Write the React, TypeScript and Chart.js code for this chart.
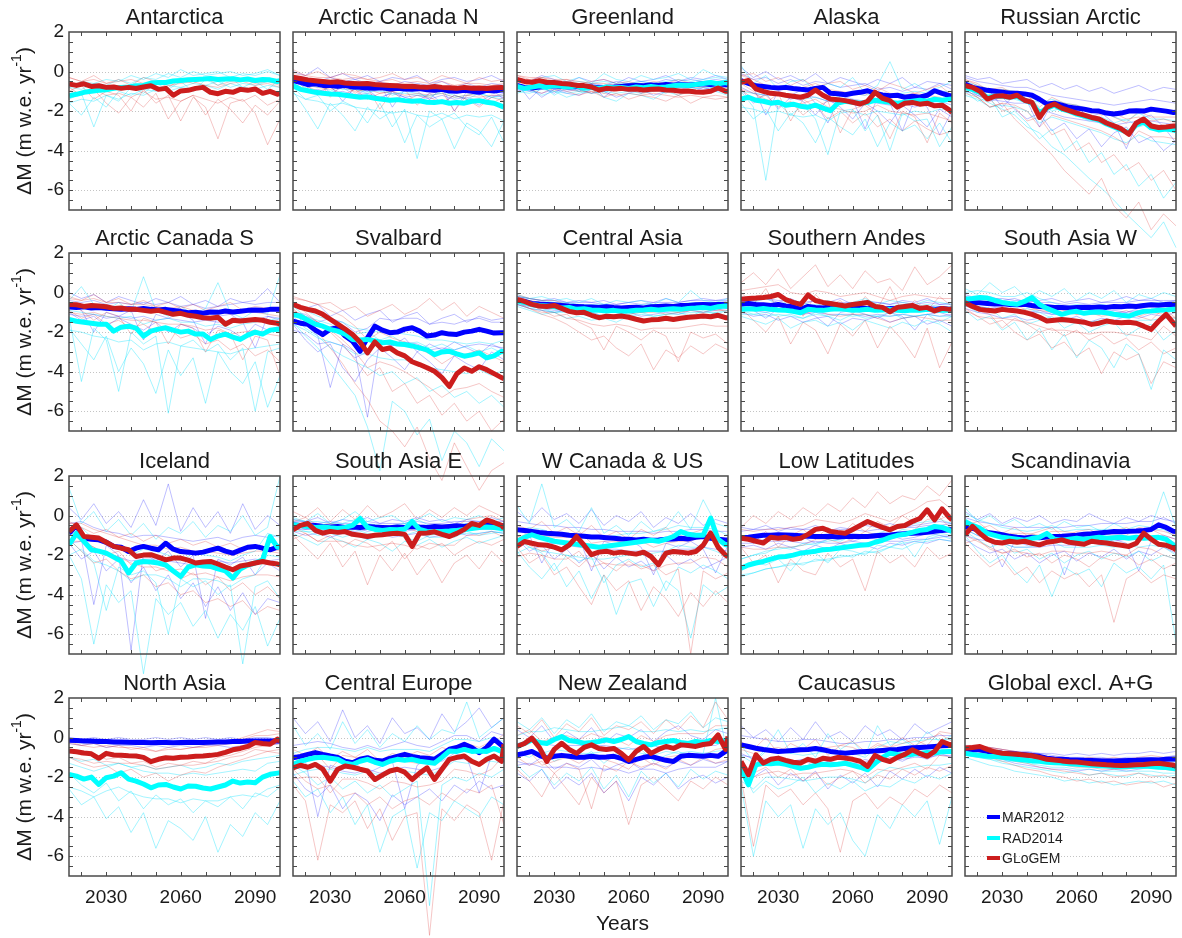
import React, { useEffect, useRef } from "react";
import { Chart, registerables } from "chart.js";
Chart.register(...registerables);

// ---------------- data ----------------
const YEARS = [2015, 2018, 2021, 2024, 2027, 2030, 2033, 2036, 2039, 2042, 2045, 2048, 2051, 2054, 2057, 2060, 2063, 2066, 2069, 2072, 2075, 2078, 2081, 2084, 2087, 2090, 2093, 2096, 2099, 2100];
const THIN_YEARS = [2015, 2020, 2025, 2030, 2035, 2040, 2045, 2050, 2055, 2060, 2065, 2070, 2075, 2080, 2085, 2090, 2095, 2100];

const TITLES = ["Antarctica", "Arctic Canada N", "Greenland", "Alaska", "Russian Arctic", "Arctic Canada S", "Svalbard", "Central Asia", "Southern Andes", "South Asia W", "Iceland", "South Asia E", "W Canada & US", "Low Latitudes", "Scandinavia", "North Asia", "Central Europe", "New Zealand", "Caucasus", "Global excl. A+G"];
const SERIES_NAMES = ["MAR2012", "RAD2014", "GLoGEM"];
const X_TICKS = [2030, 2060, 2090];
const Y_TICKS = [-6, -4, -2, 0, 2];
const X_MINOR = [2020, 2030, 2040, 2050, 2060, 2070, 2080, 2090];
const Y_MINOR = [-6.5, -6, -5.5, -5, -4.5, -4, -3.5, -3, -2.5, -2, -1.5, -1, -0.5, 0, 0.5, 1, 1.5];
const Y_GRID = [0, -2, -4, -6];
const Y_LABEL = "ΔM (m w.e. yr";
const Y_LABEL_SUP = "-1";
const X_LABEL = "Years";

// Antarctica
const ANT_MAR: number[] | null = null;
const ANT_RAD = [-1.22, -1.15, -1.05, -1.0, -0.95, -0.92, -0.85, -0.8, -0.78, -0.72, -0.7, -0.58, -0.55, -0.55, -0.48, -0.45, -0.42, -0.4, -0.38, -0.35, -0.4, -0.38, -0.36, -0.42, -0.38, -0.45, -0.4, -0.42, -0.5, -0.45];
const ANT_GLO = [-0.63, -0.7, -0.62, -0.75, -0.72, -0.8, -0.78, -0.85, -0.8, -0.86, -0.78, -0.72, -0.9, -0.85, -1.2, -0.98, -0.95, -0.85, -0.8, -1.05, -1.12, -1.0, -1.05, -0.9, -0.95, -0.88, -1.1, -1.0, -1.15, -1.1];
const ANT_MAR_THIN: number[][] = [];
const ANT_RAD_THIN = [
  [-0.8, -0.5, -0.6, -0.4, -0.5, -0.2, -0.4, -0.1, -0.3, 0.1, -0.2, -0.1, 0.0, -0.3, -0.1, -0.2, 0.0, -0.2],
  [-1.6, -2.2, -1.3, -1.8, -1.0, -1.2, -0.9, -1.0, -0.7, -0.8, -0.6, -0.7, -0.5, -0.8, -0.6, -0.7, -0.5, -0.6],
  [-1.4, -1.1, -2.8, -1.2, -1.5, -0.8, -1.1, -0.6, -0.9, -0.5, -1.0, -0.4, -0.7, -0.3, -0.8, -0.5, -0.9, -0.4],
  [-0.8, -0.9, -0.6, -0.7, -0.4, -0.6, -0.3, -0.4, -0.1, -0.3, 0.0, -0.2, -0.1, 0.0, -0.2, -0.1, 0.1, -0.2],
  [-1.6, -1.4, -1.5, -1.2, -1.4, -1.1, -1.2, -0.9, -1.0, -0.8, -0.9, -0.7, -0.9, -0.6, -0.8, -0.9, -0.7, -0.8],
];
const ANT_GLO_THIN = [
  [-0.3, -0.5, -0.2, -0.6, -0.4, -0.7, -0.3, -0.5, -0.8, -0.4, -0.6, -0.3, -0.7, -0.5, -0.4, -0.6, -0.5, -0.7],
  [-0.8, -1.2, -0.9, -1.6, -2.1, -1.3, -1.8, -1.1, -2.4, -1.5, -1.2, -2.2, -1.4, -1.9, -2.6, -1.7, -2.2, -1.5],
  [-1.0, -0.7, -1.4, -1.0, -1.2, -2.0, -0.9, -1.6, -1.2, -2.5, -1.3, -1.8, -3.4, -1.6, -1.4, -2.1, -3.7, -2.4],
  [-0.3, -0.5, -0.4, -0.6, -0.5, -0.4, -0.6, -0.5, -0.7, -0.6, -0.5, -0.7, -0.8, -0.6, -0.5, -0.7, -0.6, -0.8],
  [-1.0, -1.1, -0.9, -1.2, -1.1, -1.3, -1.0, -1.4, -1.3, -1.5, -1.2, -1.4, -1.6, -1.3, -1.5, -1.2, -1.7, -1.4],
];

// Arctic Canada N
const ACN_MAR = [-0.46, -0.55, -0.66, -0.62, -0.7, -0.71, -0.75, -0.7, -0.78, -0.8, -0.83, -0.85, -0.82, -0.88, -0.85, -0.88, -0.9, -0.86, -0.92, -0.95, -0.9, -0.98, -1.0, -0.95, -1.0, -1.05, -0.95, -0.98, -0.93, -0.93];
const ACN_RAD = [-0.71, -0.9, -0.97, -1.05, -1.1, -1.13, -1.15, -1.2, -1.25, -1.3, -1.28, -1.35, -1.4, -1.45, -1.42, -1.47, -1.5, -1.48, -1.55, -1.56, -1.52, -1.6, -1.56, -1.6, -1.5, -1.47, -1.55, -1.6, -1.75, -1.8];
const ACN_GLO = [-0.29, -0.35, -0.42, -0.46, -0.5, -0.54, -0.52, -0.58, -0.6, -0.62, -0.6, -0.65, -0.68, -0.7, -0.72, -0.76, -0.74, -0.78, -0.8, -0.76, -0.8, -0.82, -0.85, -0.8, -0.84, -0.83, -0.86, -0.82, -0.8, -0.83];
const ACN_MAR_THIN = [
  [0.0, -0.2, 0.2, -0.3, -0.1, -0.4, -0.2, -0.5, -0.3, -0.4, -0.2, -0.6, -0.4, -0.3, -0.5, -0.4, -0.2, -0.5],
  [-0.6, -0.9, -0.5, -1.1, -0.8, -1.2, -0.9, -1.4, -1.0, -1.3, -1.5, -1.1, -1.6, -1.2, -1.4, -1.7, -1.3, -1.1],
  [-0.3, -0.6, -1.2, -0.7, -1.5, -0.8, -1.0, -0.6, -1.8, -0.9, -1.0, -1.4, -0.8, -2.0, -1.0, -1.2, -0.9, -1.4],
  [-0.2, -0.3, -0.5, -0.3, -0.5, -0.4, -0.6, -0.5, -0.7, -0.5, -0.6, -0.7, -0.5, -0.8, -0.6, -0.8, -0.6, -0.7],
  [-0.8, -1.0, -0.9, -1.1, -1.0, -1.2, -1.1, -1.3, -1.1, -1.3, -1.2, -1.4, -1.2, -1.4, -1.3, -1.5, -1.2, -1.3],
];
const ACN_RAD_THIN = [
  [-0.5, -0.8, -0.6, -1.0, -0.7, -0.9, -1.1, -0.8, -1.2, -1.0, -1.1, -1.3, -1.0, -1.2, -1.4, -1.1, -1.3, -1.2],
  [-1.0, -1.9, -2.9, -1.6, -2.2, -3.0, -1.8, -2.4, -2.0, -3.6, -2.2, -2.8, -2.4, -3.9, -2.6, -3.0, -3.8, -2.5],
  [-0.8, -1.4, -1.2, -2.0, -1.5, -1.8, -2.6, -1.6, -2.8, -1.9, -4.4, -2.0, -2.4, -2.1, -2.8, -3.2, -2.3, -3.6],
  [-0.4, -0.6, -0.8, -0.7, -0.9, -0.9, -1.0, -1.0, -1.1, -1.1, -1.2, -1.2, -1.1, -1.3, -1.2, -1.1, -1.3, -1.4],
  [-1.1, -1.4, -1.5, -1.7, -1.6, -1.8, -1.9, -2.0, -2.1, -2.0, -2.2, -2.3, -2.1, -2.4, -2.2, -2.3, -2.2, -2.5],
];
const ACN_GLO_THIN = [
  [0.1, -0.2, 0.0, -0.3, -0.1, -0.2, -0.4, -0.3, -0.1, -0.4, -0.3, -0.5, -0.2, -0.4, -0.6, -0.3, -0.5, -0.4],
  [-0.5, -0.7, -1.0, -0.8, -1.2, -0.9, -1.4, -1.1, -1.0, -1.5, -1.2, -1.3, -1.6, -1.2, -1.4, -1.8, -1.3, -1.5],
  [-0.2, -0.9, -0.4, -1.3, -0.6, -1.1, -0.8, -1.9, -1.0, -0.9, -1.7, -1.1, -1.0, -2.0, -1.2, -1.1, -1.6, -1.3],
  [-0.1, -0.2, -0.3, -0.3, -0.4, -0.3, -0.4, -0.5, -0.4, -0.6, -0.5, -0.6, -0.5, -0.7, -0.6, -0.6, -0.7, -0.6],
  [-0.5, -0.7, -0.8, -0.9, -0.8, -1.0, -0.9, -1.1, -1.0, -1.2, -1.1, -1.2, -1.1, -1.3, -1.2, -1.3, -1.2, -1.2],
];

// Greenland
const GRL_MAR = [-0.7, -0.8, -0.83, -0.78, -0.75, -0.72, -0.75, -0.78, -0.75, -0.8, -0.78, -0.82, -0.8, -0.78, -0.75, -0.72, -0.7, -0.72, -0.68, -0.7, -0.65, -0.68, -0.65, -0.68, -0.65, -0.62, -0.65, -0.62, -0.65, -0.65];
const GRL_RAD = [-0.75, -0.85, -0.78, -0.72, -0.8, -0.7, -0.75, -0.78, -0.72, -0.85, -0.8, -0.85, -0.78, -0.82, -0.8, -0.85, -0.78, -0.82, -0.75, -0.8, -0.78, -0.72, -0.68, -0.7, -0.65, -0.6, -0.55, -0.62, -0.55, -0.6];
const GRL_GLO = [-0.4, -0.5, -0.54, -0.46, -0.54, -0.55, -0.6, -0.63, -0.7, -0.71, -0.78, -0.93, -0.85, -0.88, -0.85, -0.9, -0.88, -0.93, -0.9, -0.88, -0.93, -0.95, -1.0, -0.98, -1.03, -1.05, -1.0, -0.83, -1.0, -1.0];
const GRL_MAR_THIN = [
  [-0.3, -0.5, -0.2, -0.4, -0.6, -0.3, -0.5, -0.4, -0.6, -0.3, -0.5, -0.4, -0.2, -0.5, -0.3, -0.4, -0.2, -0.4],
  [-1.0, -0.8, -1.3, -0.9, -1.1, -1.2, -0.9, -1.0, -1.3, -1.1, -0.9, -1.2, -1.0, -0.9, -1.1, -0.8, -1.0, -0.9],
  [-0.6, -1.4, -0.8, -1.1, -0.7, -1.0, -0.6, -1.3, -0.8, -0.7, -1.1, -0.6, -0.9, -0.5, -0.8, -0.6, -0.7, -0.8],
  [-0.5, -0.6, -0.5, -0.6, -0.5, -0.7, -0.6, -0.7, -0.5, -0.6, -0.5, -0.6, -0.4, -0.5, -0.4, -0.5, -0.4, -0.5],
  [-0.9, -1.0, -1.1, -0.9, -1.0, -0.9, -1.1, -1.0, -0.9, -1.0, -0.8, -0.9, -0.8, -0.9, -0.8, -0.9, -0.8, -0.8],
];
const GRL_RAD_THIN = [
  [-0.4, -0.6, -0.3, -0.2, -0.5, -0.3, -0.6, -0.1, -0.4, -0.5, -0.2, -0.4, -0.3, -0.1, -0.4, 0.1, -0.2, -0.3],
  [-1.1, -0.9, -1.2, -1.0, -1.3, -1.1, -0.9, -1.3, -1.5, -1.1, -1.2, -1.4, -1.0, -1.2, -0.9, -1.1, -1.0, -1.2],
  [-0.7, -1.0, -0.7, -1.2, -0.8, -1.0, -0.7, -1.1, -0.8, -1.0, -0.6, -0.9, -1.1, -0.7, -0.8, -0.6, -0.9, -0.7],
  [-0.5, -0.6, -0.5, -0.5, -0.6, -0.5, -0.6, -0.5, -0.6, -0.6, -0.5, -0.6, -0.5, -0.4, -0.5, -0.4, -0.3, -0.4],
  [-1.0, -1.1, -0.9, -1.0, -1.1, -1.0, -1.1, -1.0, -1.1, -1.0, -1.1, -1.0, -0.9, -1.0, -0.9, -0.8, -0.8, -0.9],
];
const GRL_GLO_THIN = [
  [-0.2, -0.4, -0.3, -0.5, -0.4, -0.6, -0.5, -0.4, -0.6, -0.5, -0.7, -0.5, -0.6, -0.4, -0.6, -0.5, -0.7, -0.6],
  [-0.7, -0.9, -1.1, -0.8, -1.0, -1.2, -1.0, -1.3, -1.1, -1.4, -1.2, -1.3, -1.5, -1.2, -1.6, -1.3, -1.4, -1.3],
  [-0.5, -0.7, -0.6, -1.0, -0.7, -0.9, -1.1, -0.8, -1.0, -0.9, -1.1, -1.0, -0.9, -1.2, -1.0, -1.1, -0.9, -1.1],
  [-0.2, -0.3, -0.3, -0.4, -0.4, -0.5, -0.6, -0.6, -0.7, -0.6, -0.7, -0.7, -0.7, -0.8, -0.8, -0.8, -0.7, -0.8],
  [-0.6, -0.8, -0.7, -0.8, -0.9, -1.0, -1.0, -1.1, -1.2, -1.1, -1.2, -1.1, -1.2, -1.3, -1.2, -1.3, -1.2, -1.3],
];

// Alaska
const ALA_MAR = [-0.46, -0.6, -0.72, -0.76, -0.8, -0.83, -0.8, -0.86, -0.9, -0.93, -0.85, -0.8, -1.1, -1.12, -1.17, -1.1, -1.05, -0.97, -1.1, -1.18, -1.22, -1.2, -1.3, -1.25, -1.3, -1.2, -0.97, -1.1, -1.22, -1.22];
const ALA_RAD = [-1.39, -1.3, -1.45, -1.5, -1.6, -1.55, -1.7, -1.65, -1.75, -1.8, -1.7, -1.85, -1.98, -1.6, -1.5, -1.55, -1.6, -1.55, -1.45, -1.5, -1.55, -1.6, -1.55, -1.5, -1.45, -1.5, -1.4, -1.45, -1.4, -1.39];
const ALA_GLO = [-0.54, -0.45, -0.88, -1.0, -1.1, -1.13, -1.2, -1.25, -1.3, -1.2, -0.93, -1.2, -1.39, -1.42, -1.47, -1.55, -1.64, -1.5, -1.05, -1.35, -1.47, -1.8, -1.6, -1.56, -1.65, -1.6, -1.73, -1.7, -1.95, -2.07];
const ALA_MAR_THIN = [
  [0.2, -0.3, 0.0, -0.4, -0.2, -0.5, -0.1, -0.6, -0.3, -0.5, -0.7, -0.4, -0.6, -0.3, -0.8, -0.5, -0.6, -0.7],
  [-0.9, -1.6, -1.1, -1.9, -1.3, -1.5, -2.2, -1.4, -1.8, -2.4, -1.6, -2.0, -2.6, -1.7, -2.2, -2.8, -1.9, -2.3],
  [-0.5, -0.8, -2.2, -1.0, -1.2, -0.9, -1.6, -2.6, -1.2, -1.4, -2.9, -1.3, -1.6, -3.0, -1.4, -1.8, -3.2, -2.0],
  [-0.1, -0.4, -0.3, -0.6, -0.4, -0.7, -0.5, -0.6, -0.8, -0.7, -0.6, -0.9, -0.8, -1.0, -0.8, -0.9, -0.6, -0.9],
  [-0.8, -1.1, -1.2, -1.1, -1.4, -1.2, -1.3, -1.5, -1.6, -1.4, -1.5, -1.6, -1.7, -1.6, -1.8, -1.6, -1.5, -1.7],
];
const ALA_RAD_THIN = [
  [0.3, -0.6, -0.2, -0.9, -0.5, -0.4, -1.0, -0.6, -0.8, -0.3, -1.1, -0.7, 0.5, -0.9, -0.6, -1.0, -0.8, -0.5],
  [-1.6, -2.4, -1.9, -3.0, -2.1, -2.6, -3.6, -2.3, -2.8, -3.2, -2.4, -3.8, -2.6, -3.0, -2.7, -3.4, -2.6, -3.6],
  [-1.0, -1.8, -5.5, -1.6, -2.2, -1.7, -2.4, -4.2, -2.0, -1.9, -3.0, -2.2, -4.0, -2.1, -2.5, -2.4, -3.8, -2.8],
  [-1.0, -1.1, -1.2, -1.1, -1.3, -1.4, -1.3, -1.5, -1.2, -1.1, -1.2, -1.1, -1.2, -1.1, -1.0, -1.1, -1.0, -1.0],
  [-1.8, -1.9, -2.1, -2.0, -2.2, -2.3, -2.2, -2.5, -2.1, -2.0, -2.2, -2.0, -2.1, -2.2, -2.0, -2.1, -1.9, -1.9],
];
const ALA_GLO_THIN = [
  [-0.2, -0.1, -0.5, -0.3, -0.7, -0.4, -0.8, -0.6, -0.5, -0.9, -0.7, -1.0, -0.6, -0.8, -1.1, -0.9, -0.7, -1.2],
  [-0.9, -1.4, -1.2, -1.8, -1.5, -2.2, -1.7, -2.4, -2.0, -2.6, -2.1, -2.8, -2.4, -3.0, -2.5, -2.9, -3.2, -3.0],
  [-0.6, -1.0, -1.6, -1.1, -2.5, -1.4, -1.8, -1.5, -3.1, -1.9, -1.7, -2.2, -3.4, -2.0, -2.3, -3.6, -2.1, -2.6],
  [-0.2, -0.4, -0.7, -0.8, -0.9, -0.8, -0.6, -0.9, -1.0, -1.1, -1.2, -0.8, -1.1, -1.2, -1.1, -1.2, -1.3, -1.6],
  [-0.9, -1.1, -1.4, -1.6, -1.7, -1.6, -1.4, -1.8, -1.9, -2.1, -2.0, -1.7, -2.0, -2.1, -2.2, -2.1, -2.3, -2.5],
];

// Russian Arctic
const RUA_MAR = [-0.63, -0.8, -0.88, -0.95, -1.0, -1.05, -1.1, -1.1, -1.13, -1.2, -1.4, -1.64, -1.6, -1.7, -1.81, -1.85, -1.9, -1.98, -2.0, -2.1, -2.15, -2.1, -2.0, -1.98, -2.0, -1.9, -1.95, -2.0, -2.07, -2.05];
const RUA_RAD = [-0.8, -0.9, -1.05, -1.3, -1.25, -1.25, -1.3, -1.25, -1.45, -1.6, -2.1, -1.85, -1.7, -1.9, -2.0, -2.15, -2.25, -2.35, -2.45, -2.65, -2.8, -2.95, -3.1, -2.7, -2.55, -2.85, -2.95, -2.9, -2.95, -3.0];
const RUA_GLO = [-0.71, -0.8, -1.0, -1.39, -1.25, -1.22, -1.3, -1.2, -1.45, -1.56, -2.32, -1.8, -1.64, -1.85, -1.98, -2.1, -2.2, -2.32, -2.4, -2.6, -2.75, -2.9, -3.17, -2.6, -2.4, -2.75, -2.83, -2.8, -2.75, -2.75];
const RUA_MAR_THIN = [
  [-0.2, -0.4, -0.3, -0.6, -0.5, -0.4, -0.8, -0.6, -0.9, -0.7, -1.0, -0.8, -1.1, -0.9, -0.7, -1.0, -0.8, -0.9],
  [-0.8, -1.2, -1.5, -1.3, -1.9, -2.4, -2.1, -3.0, -2.6, -3.4, -2.9, -3.8, -3.1, -2.8, -3.6, -3.3, -4.0, -3.5],
  [-0.5, -0.9, -1.0, -1.8, -1.2, -1.5, -2.8, -1.6, -2.0, -1.8, -2.3, -2.1, -2.6, -3.9, -2.4, -2.2, -2.8, -3.6],
  [-0.3, -0.5, -0.6, -0.7, -0.8, -0.8, -1.0, -1.2, -1.3, -1.4, -1.5, -1.6, -1.7, -1.6, -1.5, -1.4, -1.5, -1.6],
  [-1.0, -1.2, -1.4, -1.5, -1.6, -1.6, -1.9, -2.1, -2.3, -2.4, -2.5, -2.6, -2.7, -2.6, -2.5, -2.5, -2.6, -2.7],
];
const RUA_RAD_THIN = [
  [-0.6, -0.9, -1.1, -1.0, -1.4, -1.6, -1.5, -2.0, -1.8, -2.2, -2.5, -2.3, -2.6, -2.4, -2.8, -2.6, -2.9, -2.7],
  [-0.9, -1.3, -1.6, -1.9, -2.2, -2.8, -3.1, -3.8, -4.2, -4.8, -5.4, -5.9, -6.5, -7.2, -7.8, -8.4, -7.6, -8.9],
  [-1.0, -1.5, -1.3, -2.3, -2.0, -2.6, -3.4, -2.9, -4.0, -3.5, -4.6, -4.1, -5.2, -4.7, -5.8, -5.2, -6.4, -5.6],
  [-0.5, -0.7, -0.9, -0.9, -1.0, -1.1, -1.6, -1.4, -1.6, -1.7, -1.9, -2.0, -2.3, -2.5, -2.1, -2.4, -2.4, -2.5],
  [-1.2, -1.4, -1.8, -1.7, -1.8, -2.0, -2.6, -2.3, -2.5, -2.7, -2.9, -3.1, -3.4, -3.6, -3.2, -3.5, -3.6, -3.7],
];
const RUA_GLO_THIN = [
  [-0.4, -0.7, -0.9, -0.8, -1.2, -1.4, -1.3, -1.7, -1.6, -2.0, -1.9, -2.2, -2.1, -2.4, -2.3, -2.5, -2.4, -2.6],
  [-0.9, -1.3, -1.8, -1.6, -2.4, -3.0, -3.6, -4.2, -5.0, -5.6, -6.2, -5.4, -6.8, -7.4, -6.6, -8.0, -7.2, -7.8],
  [-0.7, -1.1, -1.4, -2.0, -1.8, -2.5, -2.3, -3.2, -2.9, -4.0, -3.6, -4.6, -4.2, -5.0, -4.6, -5.5, -5.0, -6.0],
  [-0.4, -0.6, -1.0, -0.9, -1.0, -1.2, -1.8, -1.3, -1.6, -1.7, -1.9, -2.0, -2.3, -2.6, -2.0, -2.3, -2.3, -2.3],
  [-1.1, -1.3, -1.8, -1.6, -1.7, -2.0, -2.8, -2.2, -2.4, -2.6, -2.8, -3.0, -3.3, -3.7, -3.0, -3.3, -3.3, -3.4],
];

// Arctic Canada S
const ACS_MAR = [-0.73, -0.75, -0.72, -0.78, -0.76, -0.8, -0.82, -0.85, -0.82, -0.85, -0.8, -0.85, -0.88, -0.85, -0.9, -0.95, -1.02, -1.0, -1.05, -0.98, -1.0, -0.93, -0.98, -0.95, -0.9, -0.88, -0.9, -0.85, -0.85, -0.85];
const ACS_RAD = [-1.36, -1.45, -1.5, -1.55, -1.6, -1.6, -1.95, -1.75, -1.7, -1.8, -2.2, -1.95, -1.85, -1.78, -1.9, -2.0, -1.95, -2.1, -2.1, -2.37, -2.2, -2.1, -2.25, -2.37, -2.15, -2.0, -2.1, -1.9, -1.86, -1.86];
const ACS_GLO = [-0.6, -0.62, -0.7, -0.65, -0.68, -0.72, -0.8, -0.78, -0.85, -0.85, -0.9, -0.95, -0.9, -1.0, -1.1, -1.05, -1.15, -1.2, -1.27, -1.3, -1.25, -1.6, -1.4, -1.44, -1.4, -1.36, -1.4, -1.5, -1.55, -1.6];
const ACS_MAR_THIN = [
  [0.0, -0.3, -0.1, -0.5, -0.2, -0.4, -0.6, -0.3, -0.5, -0.2, -0.6, -0.4, -0.7, -0.3, -0.5, -0.4, 0.2, -0.5],
  [-1.0, -1.4, -1.2, -1.7, -1.3, -1.6, -1.9, -1.5, -2.0, -1.6, -1.8, -2.2, -1.7, -1.9, -2.3, -1.6, -1.9, -1.7],
  [-0.6, -0.9, -2.0, -1.0, -1.2, -0.9, -2.4, -1.1, -1.3, -1.0, -1.4, -2.6, -1.2, -1.1, -1.5, -2.8, -1.2, -1.4],
  [-0.4, -0.5, -0.4, -0.6, -0.5, -0.6, -0.5, -0.6, -0.5, -0.7, -0.6, -0.8, -0.7, -0.6, -0.5, -0.6, -0.5, -0.5],
  [-1.1, -1.2, -1.1, -1.3, -1.2, -1.3, -1.2, -1.4, -1.3, -1.4, -1.5, -1.4, -1.5, -1.4, -1.3, -1.4, -1.2, -1.3],
];
const ACS_RAD_THIN = [
  [-0.4, 0.3, -0.6, -0.9, -0.5, -1.0, 0.8, -0.9, -1.2, -0.7, -1.1, -0.8, 0.5, -1.0, -1.3, -0.9, -1.1, 0.9],
  [-1.8, -2.6, -3.4, -2.2, -4.0, -2.8, -3.6, -5.1, -2.9, -4.2, -3.3, -5.6, -3.0, -4.0, -4.6, -3.5, -5.8, -4.2],
  [-1.2, -4.5, -1.8, -2.4, -5.0, -2.0, -2.6, -2.2, -6.1, -2.7, -2.4, -3.0, -2.6, -3.4, -2.8, -6.0, -3.0, -2.8],
  [-0.9, -1.0, -1.1, -1.2, -1.3, -1.2, -1.6, -1.4, -1.3, -1.5, -1.5, -1.7, -1.6, -1.8, -1.6, -1.5, -1.4, -1.3],
  [-1.9, -2.0, -2.2, -2.3, -2.5, -2.4, -2.9, -2.6, -2.5, -2.7, -2.8, -2.9, -3.0, -3.1, -2.9, -2.8, -2.7, -2.6],
];
const ACS_GLO_THIN = [
  [-0.2, -0.4, -0.1, -0.5, -0.3, -0.6, -0.4, -0.7, -0.5, -0.8, -0.6, -0.9, -0.7, -0.5, -0.9, -0.7, -0.8, -1.0],
  [-0.9, -1.3, -1.1, -1.6, -1.4, -1.8, -1.6, -2.0, -1.8, -2.3, -2.1, -2.6, -2.4, -2.9, -2.6, -3.2, -2.9, -3.5],
  [-0.6, -0.9, -1.4, -1.0, -1.2, -2.1, -1.3, -1.5, -2.6, -1.6, -1.8, -3.0, -1.9, -2.1, -3.4, -2.2, -2.4, -4.2],
  [-0.3, -0.4, -0.3, -0.5, -0.5, -0.6, -0.6, -0.7, -0.8, -0.7, -0.9, -1.0, -0.9, -1.1, -1.0, -1.0, -1.1, -1.2],
  [-1.0, -1.1, -1.0, -1.2, -1.3, -1.4, -1.4, -1.5, -1.6, -1.6, -1.7, -1.9, -1.8, -2.1, -2.0, -1.9, -2.1, -2.2],
];

// Svalbard
const SVA_MAR = [-1.44, -1.55, -1.6, -1.9, -2.12, -1.85, -1.78, -2.2, -2.46, -2.97, -2.29, -1.7, -1.9, -2.03, -2.0, -1.85, -1.78, -1.95, -2.2, -2.15, -2.03, -2.1, -2.12, -2.0, -1.95, -1.86, -1.95, -2.05, -2.03, -2.03];
const SVA_RAD = [-1.1, -1.2, -1.4, -1.6, -1.7, -1.86, -1.95, -2.1, -2.37, -2.4, -2.37, -2.45, -2.54, -2.5, -2.6, -2.63, -2.7, -2.8, -2.9, -3.14, -3.0, -2.97, -3.1, -3.22, -3.15, -3.05, -3.3, -3.2, -2.97, -3.0];
const SVA_GLO = [-0.6, -0.75, -0.85, -0.93, -1.1, -1.35, -1.6, -1.85, -2.12, -2.5, -3.05, -2.5, -2.88, -2.8, -3.05, -3.2, -3.5, -3.64, -3.8, -3.98, -4.3, -4.75, -4.1, -3.81, -3.98, -3.75, -3.9, -4.1, -4.3, -4.36];
const SVA_MAR_THIN = [
  [-0.5, -0.8, -0.6, -1.2, -0.9, -1.4, -1.1, -0.9, -1.5, -1.2, -1.0, -1.6, -1.3, -1.1, -1.5, -1.2, -1.4, -1.3],
  [-1.6, -2.4, -3.0, -2.6, -3.8, -4.5, -3.4, -2.8, -3.3, -3.9, -3.0, -3.5, -4.1, -3.2, -3.6, -3.9, -3.0, -3.4],
  [-1.0, -1.6, -2.2, -4.8, -2.6, -3.0, -6.3, -2.4, -2.7, -2.3, -3.0, -2.6, -2.9, -2.5, -2.8, -3.1, -2.6, -2.9],
  [-1.0, -1.1, -1.5, -1.3, -1.5, -2.0, -1.8, -1.3, -1.4, -1.3, -1.3, -1.6, -1.5, -1.6, -1.4, -1.3, -1.5, -1.5],
  [-1.9, -2.1, -2.6, -2.5, -2.7, -3.3, -3.0, -2.5, -2.7, -2.5, -2.6, -2.9, -2.8, -2.9, -2.7, -2.6, -2.7, -2.8],
];
const SVA_RAD_THIN = [
  [-0.7, -1.2, -1.4, -1.6, -1.9, -2.1, -2.0, -2.4, -2.2, -2.6, -2.5, -2.8, -2.6, -2.9, -2.7, -3.0, -2.8, -3.1],
  [-1.5, -2.2, -2.8, -3.6, -4.4, -5.2, -6.8, -9.0, -5.5, -6.0, -7.2, -6.4, -8.5, -7.0, -7.6, -8.8, -7.4, -8.0],
  [-1.2, -1.8, -2.2, -2.8, -3.2, -3.5, -3.8, -4.2, -4.0, -4.6, -4.3, -5.0, -4.7, -5.3, -5.0, -5.6, -5.2, -5.8],
  [-0.7, -0.9, -1.2, -1.4, -1.5, -1.8, -1.9, -2.0, -2.0, -2.1, -2.2, -2.4, -2.4, -2.5, -2.6, -2.5, -2.6, -2.4],
  [-1.6, -1.9, -2.3, -2.5, -2.7, -3.1, -3.1, -3.3, -3.4, -3.4, -3.6, -3.8, -3.9, -4.0, -4.1, -3.9, -4.2, -3.9],
];
const SVA_GLO_THIN = [
  [-0.2, -0.4, -0.6, -0.5, -0.9, -0.7, -1.2, -0.9, -0.6, -1.1, -0.8, -0.3, -0.9, -0.5, -1.2, -0.7, -1.0, -1.3],
  [-0.8, -1.4, -2.0, -2.8, -3.6, -4.6, -5.4, -6.5, -7.0, -7.8, -6.8, -8.4, -9.5, -7.6, -8.8, -10.0, -9.0, -8.6],
  [-0.5, -1.0, -1.5, -2.0, -2.6, -3.4, -4.2, -3.8, -5.0, -4.6, -5.6, -5.2, -6.2, -5.6, -6.5, -6.0, -7.0, -6.4],
  [-0.3, -0.4, -0.6, -0.9, -1.2, -1.7, -2.4, -2.0, -2.3, -2.5, -2.8, -3.1, -3.6, -3.2, -3.1, -2.9, -3.2, -3.5],
  [-0.9, -1.2, -1.5, -1.9, -2.4, -3.0, -3.8, -3.5, -3.7, -4.0, -4.4, -4.8, -5.3, -4.9, -4.8, -4.6, -5.0, -5.3],
];

// Central Asia
const CAS_MAR = [-0.39, -0.45, -0.55, -0.58, -0.6, -0.62, -0.65, -0.68, -0.7, -0.72, -0.73, -0.75, -0.72, -0.76, -0.78, -0.76, -0.74, -0.78, -0.72, -0.7, -0.68, -0.7, -0.66, -0.65, -0.62, -0.6, -0.62, -0.6, -0.59, -0.6];
const CAS_RAD = [-0.42, -0.5, -0.6, -0.65, -0.68, -0.72, -0.78, -0.75, -0.85, -0.82, -0.88, -0.9, -0.93, -0.9, -0.95, -0.93, -0.9, -0.88, -0.85, -0.88, -0.85, -0.82, -0.85, -0.8, -0.78, -0.75, -0.8, -0.72, -0.68, -0.7];
const CAS_GLO = [-0.34, -0.45, -0.6, -0.68, -0.7, -0.65, -0.8, -0.95, -1.02, -1.0, -1.15, -1.27, -1.2, -1.22, -1.19, -1.25, -1.35, -1.44, -1.38, -1.36, -1.3, -1.36, -1.3, -1.25, -1.22, -1.19, -1.22, -1.15, -1.27, -1.27];
const CAS_MAR_THIN = [
  [-0.2, -0.3, -0.4, -0.3, -0.5, -0.4, -0.5, -0.4, -0.6, -0.5, -0.4, -0.5, -0.3, -0.5, -0.4, -0.3, -0.4, -0.3],
  [-0.6, -0.8, -0.9, -1.0, -0.9, -1.1, -1.0, -1.2, -1.1, -1.0, -1.2, -1.1, -1.0, -1.1, -0.9, -1.0, -0.9, -0.8],
  [-0.4, -0.6, -0.7, -0.6, -0.8, -0.7, -0.9, -0.8, -0.7, -0.9, -0.8, -0.7, -0.8, -0.7, -0.6, -0.7, -0.6, -0.5],
  [-0.2, -0.3, -0.4, -0.4, -0.5, -0.5, -0.5, -0.6, -0.6, -0.5, -0.6, -0.5, -0.5, -0.5, -0.4, -0.4, -0.4, -0.4],
  [-0.6, -0.7, -0.8, -0.9, -0.9, -1.0, -1.0, -0.9, -1.0, -1.0, -0.9, -0.9, -0.9, -0.8, -0.8, -0.8, -0.7, -0.8],
];
const CAS_RAD_THIN = [
  [-0.1, -0.3, -0.2, -0.4, -0.3, -0.5, -0.3, -0.6, -0.4, -0.5, -0.4, -0.6, -0.3, -0.5, 0.1, -0.4, -0.5, -0.3],
  [-0.7, -0.9, -1.1, -1.0, -1.3, -1.2, -1.4, -1.3, -1.5, -1.2, -1.4, -1.3, -1.2, -1.4, -1.1, -1.3, -1.0, -1.2],
  [-0.5, -0.7, -0.8, -1.0, -0.9, -1.1, -1.0, -1.2, -1.3, -1.1, -1.0, -1.2, -1.1, -1.0, -1.2, -0.9, -1.1, -0.9],
  [-0.2, -0.3, -0.4, -0.5, -0.5, -0.6, -0.6, -0.6, -0.7, -0.7, -0.6, -0.6, -0.6, -0.6, -0.5, -0.5, -0.5, -0.5],
  [-0.6, -0.8, -0.9, -1.0, -1.0, -1.1, -1.2, -1.2, -1.2, -1.2, -1.1, -1.2, -1.1, -1.1, -1.0, -1.0, -1.0, -0.9],
];
const CAS_GLO_THIN = [
  [-0.2, -0.4, -0.5, -0.6, -0.7, -0.9, -0.8, -1.0, -0.9, -1.1, -1.0, -0.9, -1.1, -1.0, -0.9, -1.0, -0.8, -1.0],
  [-0.5, -0.8, -1.1, -1.3, -1.6, -2.0, -2.4, -2.2, -2.8, -3.2, -2.6, -3.9, -2.9, -3.3, -2.7, -3.1, -2.6, -2.9],
  [-0.4, -0.6, -0.9, -1.2, -1.1, -1.5, -1.8, -2.9, -1.7, -2.0, -2.4, -1.9, -2.2, -3.5, -2.0, -2.3, -2.1, -2.6],
  [-0.1, -0.3, -0.4, -0.4, -0.6, -0.7, -0.8, -0.9, -0.8, -0.9, -1.0, -1.0, -0.9, -1.0, -0.9, -0.8, -0.9, -0.9],
  [-0.6, -0.8, -1.0, -1.0, -1.3, -1.4, -1.6, -1.7, -1.6, -1.7, -1.9, -1.8, -1.8, -1.8, -1.7, -1.6, -1.7, -1.7],
];

// Southern Andes
const SAN_MAR = [-0.59, -0.55, -0.6, -0.62, -0.65, -0.6, -0.68, -0.72, -0.85, -0.7, -0.75, -0.78, -0.72, -0.75, -0.78, -0.8, -0.75, -0.82, -0.78, -0.85, -0.8, -0.82, -0.78, -0.85, -0.8, -0.82, -0.85, -0.8, -0.85, -0.85];
const SAN_RAD = [-0.85, -0.82, -0.85, -0.8, -0.85, -0.88, -0.9, -0.95, -1.02, -0.85, -0.88, -0.9, -0.85, -0.82, -0.85, -0.9, -0.88, -0.85, -0.9, -0.88, -0.85, -0.9, -0.92, -0.88, -0.9, -0.85, -0.88, -0.9, -0.9, -0.9];
const SAN_GLO = [-0.34, -0.3, -0.28, -0.25, -0.2, -0.1, -0.35, -0.5, -0.6, -0.12, -0.4, -0.5, -0.55, -0.62, -0.68, -0.6, -0.55, -0.5, -0.7, -0.75, -0.97, -0.75, -0.7, -0.65, -0.8, -0.75, -0.93, -0.8, -0.85, -0.85];
const SAN_MAR_THIN = [
  [-0.2, -0.4, -0.3, -0.5, -0.3, -0.6, -0.4, -0.5, -0.3, -0.6, -0.4, -0.5, -0.6, -0.4, -0.5, -0.3, -0.6, -0.5],
  [-1.0, -1.2, -1.1, -1.4, -1.2, -1.5, -1.3, -1.2, -1.6, -1.3, -1.4, -1.2, -1.5, -1.3, -1.2, -1.6, -1.4, -1.7],
  [-0.7, -0.9, -1.3, -0.8, -1.0, -0.9, -1.2, -1.7, -1.0, -0.9, -1.1, -1.3, -1.0, -1.2, -1.9, -1.1, -1.0, -1.2],
  [-0.3, -0.4, -0.3, -0.4, -0.4, -0.5, -0.4, -0.5, -0.5, -0.5, -0.6, -0.5, -0.6, -0.5, -0.6, -0.5, -0.6, -0.6],
  [-0.9, -0.9, -1.0, -0.9, -1.0, -1.1, -1.0, -1.1, -1.1, -1.1, -1.2, -1.1, -1.2, -1.1, -1.2, -1.1, -1.2, -1.1],
];
const SAN_RAD_THIN = [
  [-0.4, -0.5, -0.3, -0.6, -0.4, -0.5, -0.7, -0.4, -0.6, -0.5, -0.3, -0.6, -0.4, -0.5, -0.6, -0.4, -0.5, -0.6],
  [-1.2, -1.4, -1.6, -1.3, -1.8, -1.5, -1.4, -1.7, -1.5, -1.9, -1.4, -1.6, -1.8, -1.5, -1.7, -1.4, -1.6, -2.0],
  [-0.9, -1.1, -1.0, -1.2, -1.1, -1.3, -1.0, -1.2, -1.4, -1.1, -1.3, -1.2, -1.0, -1.3, -1.2, -1.1, -1.5, -1.2],
  [-0.6, -0.6, -0.6, -0.7, -0.7, -0.7, -0.6, -0.7, -0.6, -0.7, -0.6, -0.7, -0.7, -0.6, -0.7, -0.6, -0.7, -0.7],
  [-1.1, -1.1, -1.2, -1.1, -1.2, -1.3, -1.1, -1.2, -1.1, -1.2, -1.1, -1.2, -1.2, -1.1, -1.2, -1.1, -1.2, -1.2],
];
const SAN_GLO_THIN = [
  [0.5, 1.0, 0.4, 1.2, 0.2, 0.8, 1.4, 0.3, 0.9, 0.2, 1.1, 0.5, 0.7, 0.1, 1.3, 0.4, 0.8, 1.4],
  [-0.8, -1.4, -2.0, -1.2, -2.6, -1.5, -1.9, -3.1, -1.6, -2.2, -1.4, -2.8, -1.7, -2.4, -3.3, -1.8, -3.8, -2.5],
  [0.0, -0.6, 0.2, -0.9, -0.3, -1.2, -0.1, -0.7, -0.4, -1.1, -0.2, -0.8, 0.3, -1.0, -0.4, -0.9, -0.2, -0.7],
  [0.1, 0.2, 0.3, 0.4, 0.0, -0.1, 0.1, 0.0, -0.2, -0.1, 0.0, -0.2, -0.4, -0.2, -0.1, -0.2, -0.3, -0.3],
  [-0.8, -0.8, -0.7, -0.6, -1.0, -1.1, -0.9, -1.1, -1.2, -1.1, -1.1, -1.3, -1.5, -1.3, -1.2, -1.3, -1.4, -1.4],
];

// South Asia W
const SAW_MAR = [-0.46, -0.5, -0.52, -0.55, -0.58, -0.56, -0.6, -0.62, -0.59, -0.65, -0.7, -0.72, -0.75, -0.76, -0.78, -0.75, -0.74, -0.76, -0.73, -0.75, -0.7, -0.72, -0.68, -0.7, -0.65, -0.62, -0.64, -0.6, -0.59, -0.6];
const SAW_RAD = [-0.34, -0.3, -0.25, -0.28, -0.4, -0.5, -0.55, -0.59, -0.45, -0.25, -0.6, -0.8, -0.95, -1.1, -1.0, -0.95, -1.05, -1.0, -0.98, -1.02, -1.1, -1.15, -1.19, -1.05, -0.95, -0.93, -0.9, -0.88, -0.85, -0.85];
const SAW_GLO = [-0.51, -0.7, -0.85, -0.9, -0.93, -0.85, -0.9, -0.93, -1.0, -1.1, -1.25, -1.44, -1.4, -1.36, -1.4, -1.45, -1.5, -1.61, -1.55, -1.44, -1.5, -1.53, -1.5, -1.55, -1.7, -1.86, -1.45, -1.1, -1.55, -1.7];
const SAW_MAR_THIN = [
  [-0.1, -0.3, -0.2, -0.4, -0.3, -0.5, -0.4, -0.3, -0.5, -0.4, -0.3, -0.5, -0.4, -0.2, -0.4, -0.3, -0.5, -0.4],
  [-0.8, -1.0, -1.1, -1.3, -1.2, -1.4, -1.3, -1.5, -1.4, -1.2, -1.5, -1.3, -1.4, -1.2, -1.3, -1.1, -1.2, -1.0],
  [-0.5, -0.7, -0.8, -0.7, -0.9, -1.0, -0.9, -1.1, -1.0, -0.9, -1.1, -1.0, -0.9, -1.0, -0.8, -0.9, -0.8, -0.7],
  [-0.2, -0.3, -0.3, -0.3, -0.4, -0.4, -0.5, -0.5, -0.6, -0.5, -0.6, -0.5, -0.5, -0.5, -0.4, -0.4, -0.4, -0.4],
  [-0.7, -0.8, -0.8, -0.9, -0.9, -1.0, -1.0, -1.1, -1.1, -1.0, -1.1, -1.0, -1.0, -1.0, -0.9, -0.9, -0.9, -0.8],
];
const SAW_RAD_THIN = [
  [0.2, -0.1, 0.5, 0.0, 0.3, -0.3, 0.1, -0.2, 0.2, -0.4, 0.0, -0.3, 0.1, -0.5, -0.1, -0.3, 0.0, -0.2],
  [-0.9, -1.4, -1.2, -1.9, -1.5, -2.4, -1.8, -2.9, -2.1, -3.3, -2.4, -2.8, -3.8, -2.6, -3.1, -4.9, -2.9, -3.4],
  [-0.6, -1.0, -0.8, -1.3, -1.1, -1.6, -1.4, -1.2, -1.8, -1.5, -2.0, -1.7, -1.5, -2.2, -1.8, -1.6, -2.4, -1.9],
  [0.0, 0.1, 0.0, -0.2, -0.2, 0.0, -0.3, -0.5, -0.7, -0.6, -0.7, -0.6, -0.7, -0.8, -0.6, -0.5, -0.5, -0.5],
  [-0.7, -0.7, -0.8, -0.9, -1.0, -0.8, -1.0, -1.3, -1.5, -1.4, -1.5, -1.4, -1.5, -1.6, -1.4, -1.4, -1.3, -1.3],
];
const SAW_GLO_THIN = [
  [-0.2, -0.5, -0.4, -0.7, -0.6, -0.9, -0.8, -1.0, -0.9, -1.1, -1.0, -1.2, -1.1, -0.9, -1.2, -1.0, -1.1, -1.3],
  [-0.8, -1.2, -1.6, -1.4, -2.0, -2.4, -2.1, -2.8, -2.5, -3.2, -2.8, -4.1, -3.0, -3.4, -3.1, -4.6, -3.5, -3.8],
  [-0.5, -0.9, -1.1, -1.8, -1.3, -1.6, -2.0, -1.8, -2.2, -1.9, -2.4, -2.1, -2.6, -2.3, -2.9, -2.5, -3.1, -2.8],
  [-0.2, -0.5, -0.6, -0.5, -0.6, -0.7, -0.9, -1.0, -1.0, -1.1, -1.1, -1.1, -1.1, -1.1, -1.2, -1.4, -0.8, -1.3],
  [-0.9, -1.2, -1.3, -1.3, -1.4, -1.5, -1.7, -1.9, -1.9, -2.0, -2.1, -2.0, -2.0, -2.1, -2.2, -2.4, -1.7, -2.2],
];

// Iceland
const ICE_MAR = [-0.89, -0.5, -1.14, -1.2, -1.23, -1.35, -1.56, -1.6, -1.82, -1.65, -1.56, -1.65, -1.73, -1.4, -1.7, -1.82, -1.85, -1.9, -1.85, -1.75, -1.65, -1.8, -1.9, -1.75, -1.6, -1.56, -1.65, -1.73, -1.6, -1.56];
const ICE_RAD = [-1.48, -0.9, -1.3, -1.73, -1.8, -1.9, -2.1, -2.3, -2.9, -2.4, -2.32, -2.35, -2.4, -2.5, -2.8, -3.08, -2.6, -2.49, -2.55, -2.57, -2.7, -2.8, -3.16, -2.7, -2.5, -2.4, -2.24, -1.06, -1.6, -1.56];
const ICE_GLO = [-0.81, -0.47, -1.06, -1.1, -1.14, -1.35, -1.56, -1.65, -1.73, -2.07, -2.0, -1.98, -2.1, -2.24, -2.15, -2.15, -2.25, -2.4, -2.35, -2.32, -2.45, -2.6, -2.74, -2.55, -2.49, -2.4, -2.32, -2.4, -2.45, -2.49];
const ICE_MAR_THIN = [
  [0.4, -0.2, 0.6, -0.4, 0.2, -0.6, 0.8, -0.5, 1.6, -0.8, 0.4, -0.6, 0.2, -0.9, 0.6, -0.7, 0.0, -0.5],
  [-1.4, -2.2, -1.8, -2.8, -2.2, -3.4, -2.6, -3.8, -3.0, -4.2, -3.4, -4.6, -3.6, -4.8, -3.9, -5.0, -4.2, -4.4],
  [-0.8, -1.2, -4.5, -1.5, -2.0, -6.8, -1.9, -2.3, -1.8, -2.6, -2.0, -5.2, -2.2, -2.5, -2.1, -3.0, -2.4, -2.8],
  [-0.4, -0.3, -0.6, -0.8, -0.9, -1.1, -1.0, -1.0, -1.1, -1.2, -1.3, -1.2, -1.1, -1.3, -1.1, -1.0, -1.1, -1.0],
  [-1.4, -1.3, -1.7, -1.9, -2.1, -2.3, -2.2, -2.2, -2.3, -2.4, -2.5, -2.4, -2.3, -2.4, -2.3, -2.2, -2.3, -2.2],
];
const ICE_RAD_THIN = [
  [1.4, -0.4, 0.2, -0.8, -0.2, -1.0, -0.4, -1.2, -0.6, -0.9, -0.3, -1.1, -0.5, -0.8, 0.0, -1.0, -0.6, 2.0],
  [-2.0, -3.2, -6.5, -3.5, -4.4, -3.8, -8.0, -4.2, -5.0, -4.4, -5.6, -4.8, -6.2, -5.0, -5.8, -4.6, -6.6, -5.2],
  [-1.2, -1.8, -2.4, -4.8, -2.6, -3.0, -2.8, -3.4, -6.0, -3.2, -3.6, -3.3, -4.0, -3.5, -7.5, -3.6, -3.3, -4.2],
  [-1.0, -0.6, -1.2, -1.3, -1.6, -2.0, -1.7, -1.8, -2.0, -2.3, -1.9, -2.0, -2.1, -2.3, -2.0, -1.8, -0.9, -1.1],
  [-2.0, -1.7, -2.3, -2.5, -2.8, -3.3, -3.0, -3.0, -3.2, -3.6, -3.2, -3.2, -3.3, -3.6, -3.2, -3.0, -2.0, -2.1],
];
const ICE_GLO_THIN = [
  [-0.3, -0.6, -0.9, -0.7, -1.1, -0.9, -1.3, -1.0, -1.4, -1.2, -1.5, -1.3, -1.6, -1.4, -1.7, -1.5, -1.6, -1.8],
  [-1.2, -1.8, -2.4, -2.2, -2.8, -3.2, -3.0, -3.6, -3.4, -4.0, -3.8, -4.4, -4.2, -4.6, -4.3, -5.0, -4.6, -4.8],
  [-0.8, -1.3, -1.6, -2.0, -1.8, -2.5, -2.2, -2.8, -2.6, -3.2, -2.9, -3.5, -3.1, -3.8, -3.4, -4.0, -3.6, -4.2],
  [-0.4, -0.4, -0.7, -0.9, -1.1, -1.3, -1.5, -1.5, -1.7, -1.6, -1.8, -1.8, -1.9, -2.0, -1.9, -1.8, -1.8, -1.9],
  [-1.3, -1.3, -1.6, -1.9, -2.1, -2.4, -2.6, -2.6, -2.8, -2.7, -3.0, -2.9, -3.1, -3.3, -3.1, -3.0, -3.0, -3.1],
];

// South Asia E
const SAE_MAR = [-0.47, -0.5, -0.52, -0.5, -0.55, -0.58, -0.55, -0.6, -0.58, -0.6, -0.55, -0.58, -0.6, -0.62, -0.58, -0.6, -0.55, -0.58, -0.6, -0.55, -0.58, -0.55, -0.52, -0.55, -0.5, -0.52, -0.5, -0.48, -0.5, -0.52];
const SAE_RAD = [-0.47, -0.5, -0.55, -0.6, -0.58, -0.62, -0.65, -0.6, -0.5, -0.15, -0.6, -0.7, -0.75, -0.7, -0.72, -0.68, -0.3, -0.7, -0.8, -0.82, -0.8, -0.78, -0.75, -0.7, -0.65, -0.6, -0.58, -0.6, -0.65, -0.64];
const SAE_GLO = [-0.72, -0.5, -0.4, -0.75, -0.89, -0.8, -0.85, -0.81, -0.95, -1.0, -1.06, -1.0, -0.97, -0.92, -0.89, -0.95, -1.56, -0.9, -0.88, -0.82, -0.95, -1.06, -0.9, -0.7, -0.4, -0.5, -0.22, -0.35, -0.5, -0.64];
const SAE_MAR_THIN = [
  [-0.2, -0.3, -0.1, -0.4, -0.2, -0.3, -0.1, -0.4, -0.2, -0.3, -0.1, -0.3, -0.2, -0.4, -0.2, -0.3, -0.1, -0.3],
  [-0.8, -1.0, -0.9, -1.1, -0.9, -1.0, -1.2, -0.9, -1.1, -1.0, -0.9, -1.1, -1.0, -0.8, -1.0, -0.9, -0.8, -0.9],
  [-0.5, -0.7, -0.6, -0.8, -0.7, -0.6, -0.8, -0.7, -0.9, -0.7, -0.6, -0.8, -0.7, -0.6, -0.7, -0.5, -0.6, -0.7],
  [-0.3, -0.3, -0.4, -0.3, -0.4, -0.4, -0.3, -0.4, -0.4, -0.4, -0.3, -0.4, -0.4, -0.3, -0.3, -0.3, -0.3, -0.3],
  [-0.7, -0.7, -0.7, -0.8, -0.8, -0.8, -0.7, -0.8, -0.8, -0.8, -0.7, -0.8, -0.7, -0.7, -0.7, -0.7, -0.7, -0.7],
];
const SAE_RAD_THIN = [
  [-0.1, -0.3, 0.1, -0.4, -0.2, 0.2, -0.3, -0.1, 0.0, -0.4, -0.2, 0.1, -0.3, -0.1, -0.2, 0.0, -0.3, -0.1],
  [-0.9, -1.2, -1.5, -1.1, -1.3, -1.6, -1.2, -1.4, -1.8, -1.3, -1.5, -1.2, -1.6, -1.3, -1.1, -1.4, -1.2, -1.0],
  [-0.6, -0.8, -1.0, -0.9, -1.1, -0.9, -1.2, -1.0, -0.9, -1.1, -1.3, -1.0, -0.9, -1.1, -0.8, -1.0, -0.9, -0.8],
  [-0.2, -0.3, -0.3, -0.4, -0.4, -0.2, -0.4, -0.5, -0.5, -0.4, -0.2, -0.5, -0.5, -0.5, -0.4, -0.4, -0.4, -0.4],
  [-0.8, -0.8, -0.8, -0.9, -0.9, -0.7, -0.9, -1.0, -1.0, -1.0, -0.8, -1.1, -1.1, -1.0, -0.9, -0.9, -0.8, -0.9],
];
const SAE_GLO_THIN = [
  [0.2, -0.1, 0.4, -0.3, 0.3, -0.2, 0.5, -0.1, 0.2, 0.6, -0.2, 0.3, -0.1, 0.4, 0.0, 0.5, 0.2, -0.1],
  [-1.0, -1.6, -2.2, -1.4, -2.6, -1.8, -3.5, -2.0, -2.8, -1.9, -3.0, -2.2, -3.4, -2.4, -2.0, -2.7, -1.8, -2.4],
  [-0.6, -0.9, -1.3, -1.0, -1.6, -1.2, -1.4, -1.8, -1.3, -2.2, -1.5, -1.7, -1.4, -2.0, -1.6, -1.3, -1.5, -1.2],
  [-0.3, -0.1, -0.5, -0.4, -0.5, -0.6, -0.7, -0.6, -0.5, -0.6, -0.8, -0.5, -0.6, -0.6, -0.2, -0.1, 0.0, -0.3],
  [-1.2, -0.9, -1.3, -1.3, -1.3, -1.5, -1.6, -1.5, -1.4, -1.5, -1.7, -1.4, -1.5, -1.5, -1.0, -1.0, -0.8, -1.1],
];

// W Canada & US
const WCU_MAR = [-0.72, -0.75, -0.8, -0.85, -0.89, -0.92, -0.95, -1.0, -1.02, -1.05, -1.08, -1.09, -1.12, -1.15, -1.18, -1.2, -1.23, -1.2, -1.25, -1.23, -1.2, -1.19, -1.15, -1.18, -1.1, -1.06, -1.15, -1.2, -1.23, -1.23];
const WCU_RAD = [-1.31, -1.1, -0.97, -1.1, -1.2, -1.3, -1.35, -1.4, -1.45, -1.5, -1.55, -1.6, -1.55, -1.5, -1.45, -1.4, -1.35, -1.3, -1.25, -1.3, -1.2, -1.06, -0.81, -0.95, -1.0, -1.0, -0.13, -1.2, -1.48, -1.48];
const WCU_GLO = [-1.56, -1.31, -1.4, -1.48, -1.5, -1.6, -1.73, -1.5, -1.06, -1.5, -1.98, -1.85, -1.8, -1.9, -1.85, -1.9, -1.95, -1.85, -2.07, -2.49, -1.9, -1.82, -1.85, -1.9, -1.82, -1.5, -0.89, -1.6, -2.0, -2.07];
const WCU_MAR_THIN = [
  [0.2, -0.3, 0.4, -0.2, 0.1, -0.4, 0.3, -0.5, 0.0, -0.3, 0.2, -0.6, -0.1, -0.4, 0.1, -0.5, -0.2, -0.4],
  [-1.2, -1.8, -1.5, -2.2, -1.7, -2.4, -1.9, -2.7, -2.1, -2.6, -2.3, -2.8, -2.0, -2.5, -2.2, -2.7, -2.4, -2.1],
  [-0.7, -1.0, -2.4, -1.2, -1.4, -1.1, -2.8, -1.3, -1.5, -1.2, -1.6, -3.0, -1.4, -1.6, -1.3, -1.7, -2.9, -1.5],
  [-0.3, -0.4, -0.5, -0.5, -0.6, -0.6, -0.7, -0.7, -0.8, -0.8, -0.8, -0.9, -0.8, -0.8, -0.7, -0.7, -0.8, -0.8],
  [-1.2, -1.3, -1.4, -1.4, -1.5, -1.6, -1.6, -1.7, -1.7, -1.8, -1.8, -1.8, -1.8, -1.7, -1.7, -1.6, -1.7, -1.8],
];
const WCU_RAD_THIN = [
  [0.5, -0.4, 1.6, -0.6, -0.2, -0.8, 0.4, -0.9, -0.5, -1.0, -0.3, -0.8, -0.6, 0.2, -0.7, 0.8, -0.4, -0.6],
  [-1.8, -2.6, -3.2, -2.4, -3.6, -2.8, -4.2, -3.0, -5.0, -3.4, -3.2, -4.6, -3.3, -3.8, -6.2, -3.5, -4.0, -3.6],
  [-1.2, -1.6, -1.9, -2.8, -2.0, -2.3, -2.1, -3.4, -2.5, -2.2, -2.6, -2.4, -3.8, -2.6, -2.9, -2.5, -2.8, -3.2],
  [-0.8, -0.6, -0.7, -0.9, -0.9, -1.0, -1.1, -1.1, -1.0, -0.9, -0.9, -0.8, -0.7, -0.5, -0.6, -0.6, -0.7, -1.0],
  [-1.9, -1.6, -1.8, -1.9, -2.0, -2.1, -2.2, -2.2, -2.1, -2.0, -2.0, -1.9, -1.8, -1.5, -1.6, -1.6, -1.8, -2.1],
];
const WCU_GLO_THIN = [
  [-0.5, -0.7, -0.3, -0.9, -0.6, -1.0, -0.5, -1.1, -0.8, -1.2, -0.7, -1.0, -0.6, -1.2, -0.9, -0.7, -1.1, -1.3],
  [-1.6, -2.4, -2.0, -3.0, -2.6, -3.6, -4.5, -3.0, -3.8, -3.3, -4.8, -3.6, -4.2, -5.1, -3.9, -4.6, -3.8, -4.4],
  [-1.0, -1.5, -1.8, -1.6, -2.1, -2.6, -2.0, -2.4, -2.8, -2.3, -2.7, -2.5, -3.0, -2.7, -7.0, -2.8, -3.2, -2.9],
  [-1.1, -0.9, -1.0, -1.1, -1.1, -0.8, -1.4, -1.3, -1.3, -1.4, -1.3, -1.6, -1.4, -1.3, -1.3, -1.0, -1.1, -1.5],
  [-2.1, -1.9, -2.0, -2.2, -2.2, -1.8, -2.6, -2.4, -2.5, -2.5, -2.5, -2.8, -2.5, -2.4, -2.4, -2.1, -2.2, -2.6],
];

// Low Latitudes
const LOW_MAR = [-1.14, -1.1, -1.05, -1.0, -1.0, -0.97, -0.98, -1.0, -1.02, -1.05, -1.06, -1.06, -1.05, -1.08, -1.06, -1.05, -1.06, -1.06, -1.02, -1.0, -0.98, -0.95, -0.92, -0.89, -0.88, -0.85, -0.8, -0.75, -0.72, -0.72];
const LOW_RAD = [-2.66, -2.5, -2.4, -2.32, -2.2, -2.1, -2.07, -2.0, -1.9, -1.85, -1.8, -1.73, -1.7, -1.65, -1.6, -1.55, -1.5, -1.48, -1.35, -1.25, -1.1, -1.0, -0.95, -0.85, -0.75, -0.7, -0.55, -0.6, -0.75, -0.81];
const LOW_GLO = [-1.14, -1.2, -1.3, -1.39, -1.1, -1.15, -1.1, -1.2, -1.15, -0.95, -0.7, -0.64, -0.8, -0.85, -0.89, -0.7, -0.5, -0.3, -0.45, -0.6, -0.72, -0.55, -0.5, -0.3, -0.15, 0.29, -0.22, 0.34, -0.1, -0.22];
const LOW_MAR_THIN = [
  [-0.6, -0.7, -0.5, -0.8, -0.6, -0.7, -0.5, -0.8, -0.6, -0.7, -0.5, -0.6, -0.4, -0.6, -0.5, -0.4, -0.3, -0.4],
  [-1.6, -1.5, -1.7, -1.4, -1.6, -1.8, -1.5, -1.7, -1.4, -1.6, -1.5, -1.7, -1.4, -1.5, -1.3, -1.4, -1.2, -1.3],
  [-1.1, -1.3, -1.2, -1.0, -1.3, -1.1, -1.4, -1.2, -1.0, -1.3, -1.1, -1.2, -1.0, -1.2, -1.1, -0.9, -1.0, -1.1],
  [-0.8, -0.7, -0.7, -0.6, -0.7, -0.7, -0.7, -0.8, -0.7, -0.7, -0.8, -0.7, -0.7, -0.6, -0.6, -0.5, -0.5, -0.4],
  [-1.4, -1.4, -1.3, -1.3, -1.3, -1.4, -1.3, -1.4, -1.4, -1.3, -1.4, -1.3, -1.3, -1.3, -1.2, -1.2, -1.1, -1.0],
];
const LOW_RAD_THIN = [
  [-2.2, -2.0, -1.9, -1.6, -1.7, -1.4, -1.5, -1.2, -1.3, -1.0, -1.1, -0.9, -1.0, -0.7, -0.8, -0.6, -0.5, -0.6],
  [-3.0, -2.9, -2.7, -2.6, -2.4, -2.5, -2.2, -2.3, -2.0, -2.1, -1.8, -1.9, -1.6, -1.7, -1.4, -1.3, -1.2, -1.3],
  [-2.6, -2.4, -2.5, -2.2, -2.8, -2.0, -1.9, -2.4, -1.7, -1.8, -2.0, -1.5, -1.6, -1.3, -2.1, -1.1, -0.9, -1.0],
  [-2.2, -2.0, -1.8, -1.7, -1.6, -1.5, -1.4, -1.3, -1.2, -1.1, -1.0, -0.9, -0.7, -0.6, -0.4, -0.3, -0.2, -0.4],
  [-3.1, -2.9, -2.7, -2.6, -2.5, -2.4, -2.3, -2.2, -2.1, -2.0, -1.9, -1.8, -1.6, -1.4, -1.3, -1.2, -1.0, -1.2],
];
const LOW_GLO_THIN = [
  [-0.6, 0.0, -0.4, 0.2, -0.2, 0.4, 0.0, 0.6, 0.2, 0.9, 0.4, 1.2, 0.6, 1.0, 0.8, 1.5, 1.0, 1.8],
  [-1.6, -2.4, -2.0, -3.4, -2.2, -2.8, -3.0, -1.9, -2.6, -2.2, -3.8, -1.8, -2.4, -2.0, -2.6, -1.6, -2.2, -1.9],
  [-1.0, -1.4, -0.8, -1.6, -1.0, -0.7, -1.2, -0.6, -1.0, -0.4, -0.8, -0.3, -0.6, 0.0, -0.4, 0.2, -0.2, 0.1],
  [-0.7, -0.8, -0.7, -0.7, -0.6, -0.5, -0.2, -0.3, -0.4, -0.2, 0.1, -0.1, -0.3, 0.0, 0.3, 0.7, 0.8, 0.3],
  [-1.6, -1.7, -1.7, -1.6, -1.6, -1.5, -1.2, -1.2, -1.4, -1.2, -0.8, -1.0, -1.2, -1.0, -0.7, -0.2, -0.1, -0.7],
];

// Scandinavia
const SCA_MAR = [-0.55, -0.65, -0.75, -0.85, -0.9, -0.97, -1.05, -1.1, -1.14, -1.1, -1.12, -1.08, -1.06, -1.05, -1.02, -1.0, -0.95, -0.92, -0.88, -0.85, -0.81, -0.82, -0.8, -0.78, -0.75, -0.7, -0.47, -0.6, -0.8, -0.81];
const SCA_RAD = [-0.3, -0.5, -0.64, -0.9, -1.0, -1.1, -1.15, -1.2, -1.25, -1.15, -1.1, -0.9, -1.2, -1.25, -1.2, -1.15, -1.2, -1.15, -1.1, -1.15, -1.12, -1.1, -1.15, -1.1, -1.15, -1.12, -1.1, -1.2, -1.5, -1.56];
const SCA_GLO = [-0.97, -0.55, -0.9, -1.2, -1.35, -1.39, -1.3, -1.35, -1.3, -1.4, -1.48, -1.35, -1.3, -1.23, -1.35, -1.4, -1.45, -1.3, -1.35, -1.39, -1.45, -1.5, -1.56, -1.4, -0.89, -1.2, -1.45, -1.5, -1.65, -1.73];
const SCA_MAR_THIN = [
  [0.2, -0.2, 0.1, -0.4, -0.1, -0.3, 0.0, -0.4, -0.2, -0.3, 0.1, -0.2, -0.4, -0.1, -0.3, 0.0, -0.2, -0.3],
  [-1.2, -1.6, -1.9, -1.7, -2.2, -1.9, -2.4, -2.0, -1.8, -2.3, -1.9, -2.1, -1.7, -2.2, -1.8, -2.0, -1.6, -1.9],
  [-0.7, -1.0, -1.2, -2.6, -1.3, -1.5, -1.4, -1.2, -3.0, -1.4, -1.3, -1.5, -1.2, -1.4, -2.8, -1.3, -1.1, -1.4],
  [-0.1, -0.3, -0.4, -0.5, -0.6, -0.6, -0.6, -0.6, -0.6, -0.5, -0.5, -0.4, -0.4, -0.4, -0.3, -0.3, -0.1, -0.4],
  [-1.0, -1.2, -1.3, -1.4, -1.6, -1.6, -1.6, -1.5, -1.5, -1.5, -1.4, -1.3, -1.3, -1.2, -1.2, -1.1, -1.0, -1.2],
];
const SCA_RAD_THIN = [
  [0.4, -0.3, 0.0, -0.5, -0.2, -0.6, -0.4, -0.7, -0.3, -0.6, -0.5, -0.8, -0.4, -0.7, -0.5, -0.6, 1.2, -0.6],
  [-1.0, -1.8, -2.4, -2.0, -2.8, -3.4, -2.5, -4.1, -2.6, -3.0, -2.7, -3.6, -2.4, -2.9, -2.6, -3.2, -2.5, -6.4],
  [-0.8, -1.2, -1.6, -1.4, -1.9, -1.7, -2.2, -1.9, -2.4, -2.0, -1.8, -2.2, -1.9, -2.1, -1.8, -2.3, -2.0, -2.2],
  [0.1, -0.2, -0.4, -0.6, -0.7, -0.8, -0.7, -0.5, -0.8, -0.7, -0.7, -0.7, -0.7, -0.7, -0.7, -0.7, -0.7, -1.1],
  [-0.7, -1.0, -1.2, -1.4, -1.6, -1.6, -1.5, -1.3, -1.6, -1.6, -1.6, -1.5, -1.6, -1.5, -1.6, -1.5, -1.6, -2.0],
];
const SCA_GLO_THIN = [
  [-0.4, -0.7, -0.5, -0.9, -0.6, -1.0, -0.8, -0.6, -1.1, -0.8, -0.7, -1.0, -0.8, -0.6, -0.9, -0.7, -0.8, -1.0],
  [-1.4, -2.0, -2.6, -2.2, -3.0, -2.6, -3.4, -2.8, -3.2, -2.9, -3.6, -3.0, -5.4, -3.2, -2.8, -3.4, -3.0, -3.2],
  [-1.0, -1.3, -1.6, -1.9, -1.7, -2.1, -1.9, -2.4, -2.0, -2.2, -2.6, -2.1, -2.3, -2.0, -2.5, -2.2, -2.7, -2.4],
  [-0.5, -0.3, -0.8, -0.9, -0.9, -0.9, -1.0, -0.8, -0.8, -0.9, -0.9, -0.9, -1.0, -1.0, -0.6, -0.7, -1.0, -1.2],
  [-1.4, -1.2, -1.7, -1.9, -1.8, -1.9, -2.0, -1.8, -1.8, -1.9, -1.9, -1.8, -1.9, -2.0, -1.6, -1.7, -2.0, -2.2],
];

// North Asia
const NAS_MAR = [-0.14, -0.15, -0.17, -0.18, -0.2, -0.2, -0.22, -0.22, -0.24, -0.25, -0.25, -0.26, -0.25, -0.25, -0.26, -0.25, -0.24, -0.25, -0.25, -0.24, -0.23, -0.22, -0.2, -0.2, -0.18, -0.18, -0.17, -0.18, -0.17, -0.17];
const NAS_RAD = [-1.86, -1.95, -2.1, -2.0, -2.37, -2.03, -1.95, -1.78, -2.1, -2.2, -2.35, -2.54, -2.4, -2.37, -2.5, -2.6, -2.45, -2.46, -2.55, -2.6, -2.5, -2.4, -2.2, -2.3, -2.25, -2.29, -2.0, -1.86, -1.8, -1.78];
const NAS_GLO = [-0.68, -0.72, -0.78, -0.82, -1.05, -0.8, -0.88, -0.9, -0.92, -0.93, -1.0, -1.22, -1.1, -1.02, -1.05, -1.0, -0.98, -0.95, -0.93, -0.9, -0.85, -0.75, -0.62, -0.55, -0.45, -0.25, -0.3, -0.34, -0.08, -0.2];
const NAS_MAR_THIN = [
  [0.0, -0.1, 0.0, -0.1, 0.0, -0.1, -0.1, 0.0, -0.1, 0.0, -0.1, 0.0, -0.1, 0.0, -0.1, 0.0, 0.0, -0.1],
  [-0.3, -0.4, -0.3, -0.5, -0.4, -0.4, -0.5, -0.4, -0.5, -0.4, -0.5, -0.4, -0.4, -0.5, -0.4, -0.3, -0.4, -0.3],
  [-0.2, -0.2, -0.3, -0.2, -0.3, -0.3, -0.2, -0.3, -0.3, -0.3, -0.2, -0.3, -0.3, -0.2, -0.3, -0.2, -0.2, -0.2],
  [-0.05, -0.1, -0.1, -0.1, -0.15, -0.15, -0.15, -0.2, -0.2, -0.2, -0.15, -0.2, -0.15, -0.15, -0.1, -0.1, -0.1, -0.1],
  [-0.25, -0.25, -0.3, -0.3, -0.35, -0.35, -0.3, -0.35, -0.35, -0.3, -0.35, -0.3, -0.3, -0.3, -0.25, -0.25, -0.25, -0.25],
];
const NAS_RAD_THIN = [
  [-1.0, -1.2, -1.1, -1.4, -1.3, -1.5, -1.4, -1.6, -1.5, -1.4, -1.6, -1.5, -1.3, -1.4, -1.2, -1.1, -1.0, -0.9],
  [-2.6, -3.4, -3.0, -4.1, -3.5, -4.8, -3.8, -5.6, -4.2, -4.6, -5.2, -4.0, -5.8, -4.4, -5.0, -3.8, -4.4, -3.2],
  [-1.8, -2.4, -2.8, -2.3, -3.2, -2.7, -3.6, -2.9, -3.4, -3.1, -3.8, -3.2, -3.5, -3.0, -3.6, -2.8, -3.0, -2.5],
  [-1.3, -1.5, -1.7, -1.5, -1.3, -1.5, -1.7, -1.8, -1.8, -1.9, -1.8, -1.9, -1.8, -1.7, -1.6, -1.7, -1.3, -1.2],
  [-2.5, -2.7, -3.0, -2.7, -2.5, -2.8, -3.0, -3.1, -3.1, -3.3, -3.1, -3.2, -3.2, -3.0, -2.9, -3.0, -2.6, -2.4],
];
const NAS_GLO_THIN = [
  [-0.2, -0.4, -0.3, -0.5, -0.4, -0.6, -0.5, -0.7, -0.5, -0.6, -0.5, -0.4, -0.3, -0.2, 0.0, 0.2, 0.4, 0.3],
  [-1.0, -1.3, -1.5, -1.4, -1.8, -1.6, -2.0, -1.8, -2.2, -1.9, -1.7, -1.8, -1.5, -1.3, -1.1, -0.9, -0.7, -0.8],
  [-0.6, -0.9, -0.8, -1.1, -1.0, -1.3, -1.2, -1.5, -1.3, -1.4, -1.2, -1.3, -1.0, -0.9, -0.7, -0.5, -0.4, -0.3],
  [-0.3, -0.4, -0.5, -0.4, -0.5, -0.5, -0.6, -0.7, -0.6, -0.6, -0.5, -0.5, -0.4, -0.3, -0.1, 0.1, 0.1, 0.2],
  [-1.0, -1.1, -1.3, -1.2, -1.3, -1.3, -1.4, -1.6, -1.5, -1.4, -1.4, -1.3, -1.2, -1.0, -0.9, -0.6, -0.7, -0.6],
];

// Central Europe
const CEU_MAR = [-1.02, -0.95, -0.85, -0.76, -0.85, -0.93, -1.0, -1.2, -1.27, -1.1, -1.02, -1.15, -1.19, -1.05, -0.95, -0.85, -0.95, -1.02, -1.05, -1.1, -0.85, -0.59, -0.5, -0.34, -0.5, -0.76, -0.5, -0.08, -0.4, -0.5];
const CEU_RAD = [-1.36, -1.2, -1.1, -1.02, -1.0, -1.05, -1.1, -1.3, -1.36, -1.2, -1.1, -1.25, -1.36, -1.2, -1.1, -1.15, -1.1, -1.2, -1.25, -1.3, -1.0, -0.68, -0.7, -0.6, -0.7, -0.68, -0.7, -0.55, -0.7, -0.75];
const CEU_GLO = [-1.53, -1.4, -1.5, -1.36, -1.6, -2.2, -1.6, -1.44, -1.5, -1.6, -1.69, -2.12, -1.9, -1.69, -1.6, -1.75, -2.12, -1.8, -1.53, -2.12, -1.6, -1.1, -1.0, -0.93, -1.2, -1.36, -1.1, -0.93, -1.2, -0.34];
const CEU_MAR_THIN = [
  [1.0, 0.2, 0.8, -0.2, 1.4, 0.0, 0.6, -0.3, 1.0, 0.2, 0.5, -0.1, 1.2, 0.3, 0.8, 1.5, 0.5, 1.0],
  [-1.8, -2.6, -3.0, -2.4, -3.6, -2.8, -3.2, -4.2, -2.9, -3.4, -3.0, -2.6, -3.2, -2.4, -2.8, -2.2, -2.6, -2.4],
  [-0.8, -1.2, -4.0, -1.4, -1.6, -1.3, -1.8, -1.5, -1.2, -3.6, -1.4, -1.0, -1.2, -0.8, -1.0, -2.8, -0.9, -1.1],
  [-0.4, -0.3, -0.2, -0.3, -0.5, -0.6, -0.4, -0.6, -0.4, -0.2, -0.4, -0.5, -0.2, 0.1, 0.1, -0.2, 0.3, 0.1],
  [-1.6, -1.5, -1.4, -1.5, -1.7, -1.8, -1.6, -1.8, -1.6, -1.5, -1.6, -1.7, -1.5, -1.1, -1.1, -1.4, -0.9, -1.1],
];
const CEU_RAD_THIN = [
  [0.6, -0.4, 0.2, -0.6, 0.8, -0.3, 0.4, -0.5, 0.2, -0.2, 0.6, -0.1, 0.4, 0.2, 1.8, 0.0, 0.5, 1.0],
  [-2.2, -3.0, -2.6, -3.8, -3.0, -4.4, -3.4, -5.8, -4.0, -3.6, -6.6, -3.8, -4.2, -3.2, -3.6, -4.0, -3.0, -3.4],
  [-1.4, -1.8, -2.4, -2.0, -2.6, -2.2, -2.8, -2.4, -3.0, -2.6, -2.2, -8.5, -2.4, -2.0, -2.2, -1.8, -2.0, -1.6],
  [-0.8, -0.6, -0.5, -0.5, -0.6, -0.7, -0.5, -0.7, -0.6, -0.6, -0.6, -0.7, -0.4, -0.1, -0.1, -0.2, 0.0, -0.2],
  [-1.9, -1.7, -1.6, -1.6, -1.8, -1.9, -1.7, -1.9, -1.7, -1.7, -1.8, -1.9, -1.6, -1.2, -1.3, -1.3, -1.2, -1.3],
];
const CEU_GLO_THIN = [
  [-0.6, -0.9, -0.5, -1.1, -0.7, -1.0, -0.6, -1.2, -0.8, -1.0, -0.7, -0.9, -0.5, -0.7, -0.3, -0.5, -0.2, -0.4],
  [-2.4, -3.2, -6.2, -3.4, -3.8, -3.2, -4.6, -3.6, -5.2, -4.0, -3.8, -10.0, -3.6, -4.2, -3.4, -3.8, -6.2, -3.2],
  [-1.6, -2.2, -2.6, -2.4, -3.0, -2.8, -3.4, -3.0, -3.6, -3.2, -3.0, -3.4, -2.8, -3.2, -2.6, -2.8, -2.4, -4.4],
  [-1.0, -0.9, -0.9, -1.6, -0.9, -1.0, -1.1, -1.4, -1.1, -1.2, -1.3, -1.2, -1.0, -0.5, -0.5, -0.8, -0.4, 0.2],
  [-2.1, -2.0, -2.0, -2.8, -2.1, -2.1, -2.3, -2.6, -2.2, -2.3, -2.5, -2.4, -2.2, -1.6, -1.7, -1.9, -1.6, -0.9],
];

// New Zealand
const NZL_MAR = [-0.87, -0.8, -0.7, -0.9, -1.04, -0.95, -0.9, -0.95, -1.0, -1.0, -0.95, -1.0, -0.98, -0.95, -1.05, -1.21, -1.1, -1.0, -0.95, -1.05, -1.15, -1.21, -0.95, -0.9, -0.92, -0.95, -0.9, -0.95, -0.7, -0.62];
const NZL_RAD = [-0.45, -0.3, -0.12, -0.25, -0.3, -0.1, 0.05, -0.15, -0.2, -0.29, -0.25, -0.2, -0.12, -0.2, -0.1, 0.05, -0.2, -0.3, -0.37, -0.25, -0.2, -0.15, -0.25, -0.3, -0.2, -0.25, -0.15, -0.2, -0.15, -0.12];
const NZL_GLO = [-0.45, -0.3, -0.03, -0.5, -1.21, -0.6, -0.29, -0.6, -0.8, -0.5, -0.37, -0.55, -0.6, -0.55, -0.8, -1.13, -0.7, -0.45, -0.8, -0.6, -0.45, -0.55, -0.37, -0.4, -0.45, -0.35, -0.3, 0.13, -0.6, 0.05];
const NZL_MAR_THIN = [
  [0.4, 0.0, 0.6, -0.2, 0.3, -0.1, 0.5, -0.3, 0.2, 0.0, 0.4, -0.2, 0.3, 0.6, 0.1, -0.1, 0.4, 0.2],
  [-1.8, -2.2, -1.6, -2.6, -2.0, -2.4, -1.8, -2.8, -2.2, -3.2, -2.0, -2.4, -1.8, -2.6, -2.1, -1.9, -2.3, -2.0],
  [-1.2, -1.4, -1.0, -1.6, -1.3, -1.5, -1.1, -1.7, -1.4, -1.2, -1.6, -1.3, -1.5, -1.2, -1.4, -1.1, -1.3, -1.2],
  [-0.3, -0.2, -0.3, -0.4, -0.4, -0.4, -0.4, -0.4, -0.5, -0.6, -0.5, -0.4, -0.6, -0.5, -0.4, -0.4, -0.4, -0.1],
  [-1.4, -1.3, -1.5, -1.5, -1.5, -1.6, -1.5, -1.6, -1.6, -1.8, -1.6, -1.6, -1.8, -1.6, -1.5, -1.5, -1.5, -1.2],
];
const NZL_RAD_THIN = [
  [0.8, 0.4, 1.0, 0.2, 0.9, 0.5, 1.2, 0.3, 0.8, 0.6, 1.1, 0.4, 0.9, 0.7, 1.3, 0.5, 1.0, 0.8],
  [-1.4, -2.0, -1.6, -2.4, -1.8, -2.2, -1.5, -2.6, -1.9, -3.0, -1.7, -2.3, -1.8, -2.5, -1.6, -2.1, -1.7, -1.9],
  [-0.8, -1.0, -0.6, -1.2, -0.9, -1.1, -0.7, -1.3, -0.8, -1.0, -0.6, -1.2, -0.9, -0.7, -1.0, -0.8, 2.0, -0.9],
  [0.1, 0.3, 0.3, 0.5, 0.4, 0.3, 0.3, 0.4, 0.5, 0.6, 0.3, 0.3, 0.4, 0.3, 0.4, 0.3, 0.4, 0.5],
  [-1.0, -0.7, -0.8, -0.6, -0.7, -0.8, -0.8, -0.7, -0.6, -0.5, -0.8, -0.9, -0.7, -0.8, -0.7, -0.8, -0.7, -0.6],
];
const NZL_GLO_THIN = [
  [0.6, 0.2, 0.9, 0.0, 0.7, 0.3, 1.0, 0.1, 0.6, 0.4, 0.8, 0.2, 0.9, 0.4, 1.1, 0.5, 1.8, 0.9],
  [-1.6, -2.2, -3.0, -1.8, -2.6, -3.4, -2.0, -2.8, -2.2, -4.4, -2.4, -2.0, -2.6, -3.2, -2.2, -2.6, -2.0, -2.4],
  [-1.0, -1.4, -1.2, -1.8, -1.3, -1.6, -3.6, -1.4, -1.7, -1.2, -1.5, -1.3, -1.6, -1.1, -1.4, -1.0, -1.3, -1.1],
  [0.1, 0.4, -0.2, 0.0, 0.1, -0.1, 0.2, 0.0, -0.1, -0.4, 0.1, -0.2, 0.1, 0.2, 0.2, 0.2, 0.6, 0.6],
  [-1.0, -0.7, -1.4, -1.2, -1.0, -1.3, -0.9, -1.1, -1.3, -1.6, -1.0, -1.4, -1.0, -0.9, -1.0, -0.9, -0.6, -0.5],
];

// Caucasus
const CAU_MAR = [-0.37, -0.45, -0.54, -0.6, -0.65, -0.7, -0.68, -0.65, -0.62, -0.6, -0.55, -0.62, -0.7, -0.75, -0.79, -0.75, -0.72, -0.7, -0.68, -0.65, -0.62, -0.6, -0.55, -0.52, -0.5, -0.48, -0.45, -0.42, -0.4, -0.37];
const CAU_RAD = [-1.55, -2.39, -1.38, -1.3, -1.32, -1.29, -1.35, -1.45, -1.55, -1.5, -1.4, -1.35, -1.38, -1.35, -1.3, -1.4, -1.5, -1.63, -1.3, -1.0, -0.79, -0.85, -0.9, -0.85, -0.8, -0.75, -0.78, -0.72, -0.7, -0.7];
const CAU_GLO = [-1.21, -1.88, -0.87, -1.29, -1.1, -1.04, -1.15, -1.25, -1.29, -1.1, -1.2, -1.05, -1.1, -1.0, -1.04, -1.1, -1.2, -1.46, -0.9, -1.1, -1.21, -1.0, -0.85, -0.62, -0.8, -0.95, -0.7, -0.2, -0.35, -0.37];
const CAU_MAR_THIN = [
  [0.6, 0.0, 0.4, -0.2, 0.5, -0.1, 0.8, 0.0, 0.3, -0.2, 0.6, 0.1, 0.4, -0.1, 0.7, 0.2, 0.5, 0.8],
  [-1.4, -2.0, -1.6, -2.4, -1.8, -2.2, -1.7, -2.6, -1.9, -2.3, -1.8, -2.5, -1.7, -2.1, -1.6, -2.0, -1.5, -1.8],
  [-0.8, -1.1, -1.4, -1.0, -1.3, -1.1, -1.5, -1.2, -1.0, -1.4, -1.1, -1.3, -1.0, -1.2, -0.9, -1.1, -0.8, -1.0],
  [0.1, 0.0, -0.1, -0.2, -0.2, -0.1, -0.1, -0.2, -0.3, -0.3, -0.2, -0.2, -0.1, -0.1, 0.0, 0.0, 0.1, 0.1],
  [-0.9, -1.0, -1.1, -1.2, -1.2, -1.1, -1.1, -1.2, -1.3, -1.3, -1.2, -1.2, -1.1, -1.1, -1.0, -1.0, -0.9, -0.9],
];
const CAU_RAD_THIN = [
  [-0.4, -1.2, -0.6, 0.4, -0.8, -0.3, -1.0, 0.2, -0.6, -0.2, -0.9, 0.6, -0.4, -0.1, -0.5, 0.3, -0.2, 0.1],
  [-2.4, -6.0, -3.2, -4.0, -3.4, -5.6, -3.6, -4.4, -3.8, -5.2, -6.0, -3.9, -4.6, -3.4, -4.0, -3.2, -5.4, -3.0],
  [-1.6, -2.8, -2.2, -2.6, -2.4, -2.0, -2.8, -2.3, -2.6, -2.2, -2.7, -2.4, -2.5, -2.1, -2.3, -1.9, -2.1, -1.8],
  [-0.9, -1.3, -0.7, -0.7, -0.8, -0.9, -0.8, -0.7, -0.7, -0.8, -1.0, -0.5, -0.2, -0.3, -0.2, -0.1, -0.1, -0.1],
  [-2.2, -2.6, -2.0, -2.0, -2.1, -2.2, -2.1, -2.0, -2.0, -2.1, -2.3, -1.8, -1.5, -1.6, -1.5, -1.4, -1.4, -1.3],
];
const CAU_GLO_THIN = [
  [-0.2, -0.6, 0.0, -0.8, -0.3, -0.6, -0.1, -0.9, -0.4, -0.2, -0.7, -0.3, -0.5, 0.0, -0.4, -0.1, 0.2, -0.2],
  [-2.0, -5.5, -2.4, -3.0, -2.6, -3.4, -2.8, -3.6, -5.8, -3.2, -2.8, -3.6, -3.0, -3.4, -2.6, -3.0, -2.4, -2.8],
  [-1.2, -1.8, -1.5, -2.0, -1.6, -2.2, -1.8, -2.4, -2.0, -1.7, -2.3, -1.9, -2.1, -1.6, -1.9, -1.5, -1.7, -1.4],
  [-0.6, -0.8, -0.6, -0.5, -0.7, -0.6, -0.6, -0.5, -0.4, -0.5, -0.8, -0.4, -0.5, -0.3, -0.1, -0.4, 0.3, 0.2],
  [-1.8, -2.0, -1.8, -1.7, -1.9, -1.8, -1.8, -1.7, -1.6, -1.7, -2.0, -1.6, -1.7, -1.5, -1.3, -1.6, -0.9, -1.0],
];

// Global excl. A+G
const GLB_MAR = [-0.62, -0.6, -0.62, -0.7, -0.75, -0.79, -0.82, -0.85, -0.87, -0.9, -0.95, -1.04, -1.08, -1.1, -1.12, -1.13, -1.15, -1.16, -1.17, -1.18, -1.18, -1.17, -1.16, -1.15, -1.13, -1.12, -1.13, -1.1, -1.08, -1.08];
const GLB_RAD = [-0.79, -0.85, -0.9, -0.94, -0.96, -1.0, -1.05, -1.1, -1.13, -1.18, -1.2, -1.25, -1.27, -1.29, -1.32, -1.35, -1.38, -1.4, -1.42, -1.44, -1.46, -1.47, -1.46, -1.45, -1.44, -1.46, -1.5, -1.52, -1.56, -1.58];
const GLB_GLO = [-0.54, -0.5, -0.45, -0.6, -0.72, -0.79, -0.82, -0.85, -0.88, -0.92, -1.0, -1.1, -1.13, -1.18, -1.22, -1.24, -1.28, -1.32, -1.35, -1.38, -1.4, -1.41, -1.4, -1.38, -1.36, -1.32, -1.3, -1.35, -1.4, -1.46];
const GLB_MAR_THIN = [
  [-0.4, -0.5, -0.5, -0.6, -0.7, -0.7, -0.8, -0.8, -0.9, -0.8, -0.9, -0.8, -0.9, -0.8, -0.8, -0.7, -0.8, -0.7],
  [-0.8, -0.9, -1.0, -1.1, -1.3, -1.4, -1.5, -1.6, -1.6, -1.7, -1.6, -1.7, -1.6, -1.7, -1.6, -1.5, -1.6, -1.5],
  [-0.6, -0.7, -0.8, -0.9, -1.0, -1.1, -1.2, -1.3, -1.3, -1.4, -1.4, -1.3, -1.4, -1.3, -1.4, -1.3, -1.3, -1.2],
  [-0.5, -0.5, -0.6, -0.7, -0.7, -0.8, -0.8, -0.9, -1.0, -1.0, -1.0, -1.0, -1.1, -1.0, -1.0, -1.0, -1.0, -0.9],
  [-0.7, -0.8, -0.8, -0.9, -1.0, -1.0, -1.1, -1.2, -1.3, -1.3, -1.3, -1.4, -1.3, -1.4, -1.3, -1.3, -1.3, -1.3],
];
const GLB_RAD_THIN = [
  [-0.6, -0.7, -0.8, -0.9, -1.0, -1.0, -1.1, -1.2, -1.2, -1.3, -1.2, -1.3, -1.3, -1.2, -1.3, -1.2, -1.3, -1.2],
  [-1.0, -1.2, -1.4, -1.5, -1.7, -1.8, -1.9, -2.0, -2.2, -2.1, -2.3, -2.2, -2.4, -2.3, -2.2, -2.3, -2.2, -2.4],
  [-0.9, -1.0, -1.1, -1.3, -1.4, -1.5, -1.6, -1.7, -1.8, -1.7, -1.9, -1.8, -1.9, -2.0, -1.8, -1.9, -2.0, -1.9],
  [-0.7, -0.8, -0.8, -0.9, -1.0, -1.0, -1.1, -1.1, -1.2, -1.2, -1.3, -1.3, -1.3, -1.3, -1.3, -1.3, -1.4, -1.4],
  [-0.9, -1.0, -1.1, -1.2, -1.2, -1.3, -1.4, -1.5, -1.5, -1.6, -1.6, -1.7, -1.7, -1.7, -1.7, -1.7, -1.8, -1.8],
];
const GLB_GLO_THIN = [
  [-0.4, -0.4, -0.5, -0.6, -0.7, -0.8, -0.9, -1.0, -1.0, -1.1, -1.0, -1.1, -1.0, -1.1, -1.0, -0.9, -1.0, -1.0],
  [-0.7, -0.8, -1.0, -1.2, -1.4, -1.6, -1.7, -1.9, -2.0, -2.2, -2.1, -2.3, -2.2, -2.4, -2.3, -2.2, -2.5, -2.3],
  [-0.6, -0.7, -0.9, -1.0, -1.2, -1.3, -1.5, -1.6, -1.7, -1.8, -1.9, -1.8, -2.0, -1.9, -1.8, -2.0, -1.9, -2.1],
  [-0.4, -0.4, -0.5, -0.6, -0.7, -0.8, -0.9, -1.0, -1.1, -1.1, -1.2, -1.2, -1.3, -1.2, -1.2, -1.1, -1.2, -1.3],
  [-0.7, -0.7, -0.8, -0.9, -1.0, -1.1, -1.2, -1.3, -1.4, -1.5, -1.5, -1.6, -1.6, -1.6, -1.5, -1.5, -1.6, -1.7],
];

type Panel = { mar: number[] | null; rad: number[]; glo: number[]; marThin: number[][]; radThin: number[][]; gloThin: number[][] };
const PANELS: Panel[] = [
  { mar: ANT_MAR, rad: ANT_RAD, glo: ANT_GLO, marThin: ANT_MAR_THIN, radThin: ANT_RAD_THIN, gloThin: ANT_GLO_THIN },
  { mar: ACN_MAR, rad: ACN_RAD, glo: ACN_GLO, marThin: ACN_MAR_THIN, radThin: ACN_RAD_THIN, gloThin: ACN_GLO_THIN },
  { mar: GRL_MAR, rad: GRL_RAD, glo: GRL_GLO, marThin: GRL_MAR_THIN, radThin: GRL_RAD_THIN, gloThin: GRL_GLO_THIN },
  { mar: ALA_MAR, rad: ALA_RAD, glo: ALA_GLO, marThin: ALA_MAR_THIN, radThin: ALA_RAD_THIN, gloThin: ALA_GLO_THIN },
  { mar: RUA_MAR, rad: RUA_RAD, glo: RUA_GLO, marThin: RUA_MAR_THIN, radThin: RUA_RAD_THIN, gloThin: RUA_GLO_THIN },
  { mar: ACS_MAR, rad: ACS_RAD, glo: ACS_GLO, marThin: ACS_MAR_THIN, radThin: ACS_RAD_THIN, gloThin: ACS_GLO_THIN },
  { mar: SVA_MAR, rad: SVA_RAD, glo: SVA_GLO, marThin: SVA_MAR_THIN, radThin: SVA_RAD_THIN, gloThin: SVA_GLO_THIN },
  { mar: CAS_MAR, rad: CAS_RAD, glo: CAS_GLO, marThin: CAS_MAR_THIN, radThin: CAS_RAD_THIN, gloThin: CAS_GLO_THIN },
  { mar: SAN_MAR, rad: SAN_RAD, glo: SAN_GLO, marThin: SAN_MAR_THIN, radThin: SAN_RAD_THIN, gloThin: SAN_GLO_THIN },
  { mar: SAW_MAR, rad: SAW_RAD, glo: SAW_GLO, marThin: SAW_MAR_THIN, radThin: SAW_RAD_THIN, gloThin: SAW_GLO_THIN },
  { mar: ICE_MAR, rad: ICE_RAD, glo: ICE_GLO, marThin: ICE_MAR_THIN, radThin: ICE_RAD_THIN, gloThin: ICE_GLO_THIN },
  { mar: SAE_MAR, rad: SAE_RAD, glo: SAE_GLO, marThin: SAE_MAR_THIN, radThin: SAE_RAD_THIN, gloThin: SAE_GLO_THIN },
  { mar: WCU_MAR, rad: WCU_RAD, glo: WCU_GLO, marThin: WCU_MAR_THIN, radThin: WCU_RAD_THIN, gloThin: WCU_GLO_THIN },
  { mar: LOW_MAR, rad: LOW_RAD, glo: LOW_GLO, marThin: LOW_MAR_THIN, radThin: LOW_RAD_THIN, gloThin: LOW_GLO_THIN },
  { mar: SCA_MAR, rad: SCA_RAD, glo: SCA_GLO, marThin: SCA_MAR_THIN, radThin: SCA_RAD_THIN, gloThin: SCA_GLO_THIN },
  { mar: NAS_MAR, rad: NAS_RAD, glo: NAS_GLO, marThin: NAS_MAR_THIN, radThin: NAS_RAD_THIN, gloThin: NAS_GLO_THIN },
  { mar: CEU_MAR, rad: CEU_RAD, glo: CEU_GLO, marThin: CEU_MAR_THIN, radThin: CEU_RAD_THIN, gloThin: CEU_GLO_THIN },
  { mar: NZL_MAR, rad: NZL_RAD, glo: NZL_GLO, marThin: NZL_MAR_THIN, radThin: NZL_RAD_THIN, gloThin: NZL_GLO_THIN },
  { mar: CAU_MAR, rad: CAU_RAD, glo: CAU_GLO, marThin: CAU_MAR_THIN, radThin: CAU_RAD_THIN, gloThin: CAU_GLO_THIN },
  { mar: GLB_MAR, rad: GLB_RAD, glo: GLB_GLO, marThin: GLB_MAR_THIN, radThin: GLB_RAD_THIN, gloThin: GLB_GLO_THIN },
];

// ---------------- layout & style ----------------
const FONT = "'Liberation Sans', Arial, Helvetica, sans-serif";
const PAGE_W = 1182;
const PAGE_H = 938;
const COL_LEFT = [69, 293, 517, 741, 965];
const ROW_TOP = [32, 253, 476, 698];
const PLOT_W = 211;
const PLOT_H = 178;
const Y_AXIS_W = 50;
const X_AXIS_H = 40;
const THICK_COLORS = ["#0000ff", "#00ffff", "#cc1d1d"];
const THIN_COLORS = ["rgba(0,0,255,0.26)", "rgba(0,225,255,0.36)", "rgba(215,35,35,0.26)"];
const FRAME_COLOR = "#4a4a4a";
const TEXT_COLOR = "#1a1a1a";

function toPoints(xs: number[], ys: number[]) {
  return ys.slice(0, xs.length).map((v, i) => ({ x: xs[i], y: v }));
}

function buildChart(canvas: HTMLCanvasElement, idx: number) {
  const p = PANELS[idx];
  const col = idx % 5;
  const row = Math.floor(idx / 5);
  const left = COL_LEFT[col];
  const top = ROW_TOP[row];
  const isLeft = col === 0;
  const isBottom = row === 3;

  const datasets: any[] = [];
  const thinSets = [p.marThin, p.radThin, p.gloThin];
  thinSets.forEach((lines, m) => {
    lines.forEach((line, k) => {
      datasets.push({
        label: SERIES_NAMES[m] + " member " + (k + 1),
        data: toPoints(THIN_YEARS, line),
        borderColor: THIN_COLORS[m],
        borderWidth: 1,
        pointRadius: 0,
        tension: 0,
        clip: false,
        order: 20 - m,
      });
    });
  });
  const thick = [p.mar, p.rad, p.glo];
  thick.forEach((series, m) => {
    if (!series) return;
    datasets.push({
      label: SERIES_NAMES[m],
      data: toPoints(YEARS, series),
      borderColor: THICK_COLORS[m],
      borderWidth: 5,
      pointRadius: 0,
      tension: 0,
      borderJoinStyle: "round",
      order: 3 - m,
    });
  });

  const framePlugin = {
    id: "frame" + idx,
    beforeDatasetsDraw(chart: any) {
      const { ctx, chartArea: a, scales } = chart;
      const y = scales.y;
      ctx.save();
      ctx.strokeStyle = "#c4c4c4";
      ctx.lineWidth = 1;
      ctx.setLineDash([1, 2]);
      Y_GRID.forEach((v) => {
        const py = Math.round(y.getPixelForValue(v)) + 0.5;
        ctx.beginPath();
        ctx.moveTo(a.left, py);
        ctx.lineTo(a.right, py);
        ctx.stroke();
      });
      ctx.restore();
    },
    afterDatasetsDraw(chart: any) {
      const { ctx, chartArea: a, scales } = chart;
      const x = scales.x;
      const y = scales.y;
      ctx.save();
      ctx.strokeStyle = FRAME_COLOR;
      ctx.lineWidth = 1;
      const TL = 4;
      ctx.beginPath();
      X_MINOR.forEach((v) => {
        const px = Math.round(x.getPixelForValue(v)) + 0.5;
        ctx.moveTo(px, a.bottom);
        ctx.lineTo(px, a.bottom - TL);
        ctx.moveTo(px, a.top);
        ctx.lineTo(px, a.top + TL);
      });
      Y_MINOR.forEach((v) => {
        const py = Math.round(y.getPixelForValue(v)) + 0.5;
        ctx.moveTo(a.left, py);
        ctx.lineTo(a.left + TL, py);
        ctx.moveTo(a.right, py);
        ctx.lineTo(a.right - TL, py);
      });
      ctx.stroke();
      ctx.lineWidth = 1.5;
      ctx.strokeRect(a.left, a.top, a.right - a.left, a.bottom - a.top);
      ctx.fillStyle = TEXT_COLOR;
      ctx.font = "22px " + FONT;
      ctx.textAlign = "center";
      ctx.textBaseline = "middle";
      ctx.fillText(TITLES[idx], (a.left + a.right) / 2, a.top - 14);
      if (isLeft) {
        ctx.save();
        ctx.translate(25, (a.top + a.bottom) / 2);
        ctx.rotate(-Math.PI / 2);
        ctx.font = "21px " + FONT;
        const w1 = ctx.measureText(Y_LABEL).width;
        ctx.font = "14px " + FONT;
        const w2 = ctx.measureText(Y_LABEL_SUP).width;
        ctx.font = "21px " + FONT;
        const w3 = ctx.measureText(")").width;
        const start = -(w1 + w2 + w3) / 2;
        ctx.textAlign = "left";
        ctx.fillText(Y_LABEL, start, 0);
        ctx.font = "14px " + FONT;
        ctx.fillText(Y_LABEL_SUP, start + w1, -8);
        ctx.font = "21px " + FONT;
        ctx.fillText(")", start + w1 + w2, 0);
        ctx.restore();
      }
      if (isBottom && col === 2) {
        ctx.font = "21px " + FONT;
        ctx.textAlign = "center";
        ctx.fillText(X_LABEL, (a.left + a.right) / 2, a.bottom + 48);
      }
      if (idx === PANELS.length - 1) {
        const offs = [119, 140, 160];
        ctx.textAlign = "left";
        ctx.font = "14px " + FONT;
        SERIES_NAMES.forEach((name, i) => {
          const ly = a.top + offs[i];
          ctx.strokeStyle = THICK_COLORS[i];
          ctx.lineWidth = 4;
          ctx.beginPath();
          ctx.moveTo(a.left + 22, ly);
          ctx.lineTo(a.left + 35, ly);
          ctx.stroke();
          ctx.fillStyle = "#222";
          ctx.fillText(name, a.left + 37, ly + 1);
        });
      }
      ctx.restore();
    },
  };

  return new Chart(canvas, {
    type: "line",
    data: { datasets },
    plugins: [framePlugin],
    options: {
      animation: false,
      responsive: false,
      events: [],
      layout: {
        padding: {
          left: left - Y_AXIS_W,
          top: top,
          right: PAGE_W - (left + PLOT_W),
          bottom: PAGE_H - (top + PLOT_H) - X_AXIS_H,
        },
      },
      plugins: { legend: { display: false }, tooltip: { enabled: false }, title: { display: false } },
      scales: {
        x: {
          type: "linear",
          min: 2015,
          max: 2100,
          grid: { display: false, drawTicks: false },
          border: { display: false },
          afterBuildTicks: (s: any) => {
            s.ticks = X_TICKS.map((v) => ({ value: v }));
          },
          afterFit: (s: any) => {
            s.height = X_AXIS_H;
            s.paddingLeft = 0;
            s.paddingRight = 0;
          },
          ticks: {
            display: isBottom,
            padding: 10,
            maxRotation: 0,
            autoSkip: false,
            color: TEXT_COLOR,
            font: { family: FONT, size: 19 },
            callback: (v: any) => String(v),
          },
        },
        y: {
          type: "linear",
          min: -7,
          max: 2,
          grid: { display: false, drawTicks: false },
          border: { display: false },
          afterBuildTicks: (s: any) => {
            s.ticks = Y_TICKS.map((v) => ({ value: v }));
          },
          afterFit: (s: any) => {
            s.width = Y_AXIS_W;
            s.paddingTop = 0;
            s.paddingBottom = 0;
          },
          ticks: {
            display: isLeft,
            padding: 5,
            autoSkip: false,
            color: TEXT_COLOR,
            font: { family: FONT, size: 19 },
            callback: (v: any) => String(v),
          },
        },
      },
    } as any,
  });
}

function PanelCanvas({ idx }: { idx: number }) {
  const ref = useRef<HTMLCanvasElement | null>(null);
  useEffect(() => {
    if (!ref.current) return;
    const chart = buildChart(ref.current, idx);
    return () => chart.destroy();
  }, [idx]);
  return (
    <canvas
      ref={ref}
      width={PAGE_W}
      height={PAGE_H}
      style={{ position: "absolute", left: 0, top: 0, width: PAGE_W, height: PAGE_H }}
    />
  );
}

export default function App() {
  useEffect(() => {
    document.body.style.margin = "0";
    document.body.style.overflow = "hidden";
    document.body.style.background = "#ffffff";
  }, []);
  return (
    <div style={{ position: "absolute", left: 0, top: 0, width: PAGE_W, height: PAGE_H, background: "#ffffff", overflow: "hidden" }}>
      {PANELS.map((_, i) => (
        <PanelCanvas key={i} idx={i} />
      ))}
    </div>
  );
}
